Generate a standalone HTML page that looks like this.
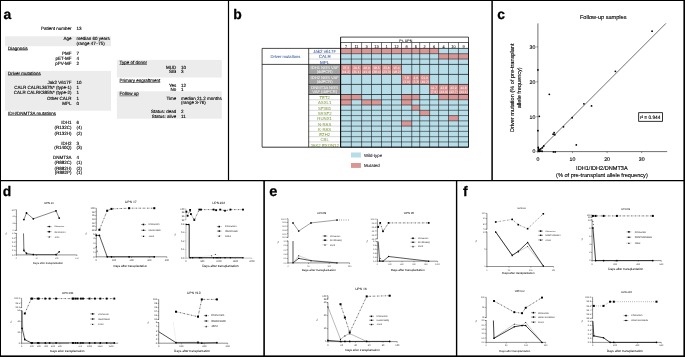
<!DOCTYPE html>
<html lang="en">
<head>
<meta charset="utf-8">
<title>Figure</title>
<style>
html,body{margin:0;padding:0;background:#fff;}
body{width:685px;height:357px;overflow:hidden;}
svg{display:block;font-family:"Liberation Sans",Arial,Helvetica,sans-serif;}
svg text{white-space:pre;}
</style>
</head>
<body>
<svg width="685" height="357" viewBox="0 0 685 357" text-rendering="geometricPrecision">
<rect x="0.00" y="0.00" width="685.00" height="357.00" fill="#fff" />
<rect x="0.00" y="0.00" width="685.00" height="1.00" fill="#000" />
<rect x="0.00" y="0.00" width="1.00" height="357.00" fill="#000" />
<rect x="683.40" y="0.00" width="1.60" height="357.00" fill="#000" />
<rect x="0.00" y="355.40" width="685.00" height="1.60" fill="#000" />
<line x1="0.00" y1="180.60" x2="685.00" y2="180.60" stroke="#000" stroke-width="1.3" />
<line x1="228.50" y1="0.00" x2="228.50" y2="180.50" stroke="#000" stroke-width="1.2" />
<line x1="492.10" y1="0.00" x2="492.10" y2="180.50" stroke="#000" stroke-width="1.5" />
<line x1="264.10" y1="180.50" x2="264.10" y2="357.00" stroke="#000" stroke-width="1.6" />
<line x1="456.60" y1="180.50" x2="456.60" y2="357.00" stroke="#000" stroke-width="1.4" />
<text x="3.60" y="18.70" font-size="13.9" text-anchor="start" fill="#000" font-weight="bold" stroke="#000" stroke-width="0.25" >a</text>
<text x="233.20" y="18.70" font-size="13.9" text-anchor="start" fill="#000" font-weight="bold" stroke="#000" stroke-width="0.25" >b</text>
<text x="497.30" y="18.70" font-size="13.9" text-anchor="start" fill="#000" font-weight="bold" stroke="#000" stroke-width="0.25" >c</text>
<text x="2.80" y="196.30" font-size="13.9" text-anchor="start" fill="#000" font-weight="bold" stroke="#000" stroke-width="0.25" >d</text>
<text x="269.30" y="196.20" font-size="14.6" text-anchor="start" fill="#000" font-weight="bold" stroke="#000" stroke-width="0.25" >e</text>
<text x="462.90" y="196.00" font-size="13.9" text-anchor="start" fill="#000" font-weight="bold" stroke="#000" stroke-width="0.25" >f</text>
<rect x="5.00" y="36.30" width="106.00" height="9.90" fill="#ececec" />
<rect x="5.00" y="70.90" width="106.00" height="39.80" fill="#ececec" />
<rect x="116.90" y="59.90" width="104.90" height="17.60" fill="#ececec" />
<rect x="116.90" y="91.30" width="104.90" height="27.40" fill="#ececec" />
<text x="71.50" y="29.65" font-size="4.5" text-anchor="end" fill="#000" font-weight="normal" stroke="#000" stroke-width="0.12" >Patient number</text>
<text x="76.50" y="29.65" font-size="4.5" text-anchor="start" fill="#000" font-weight="normal" stroke="#000" stroke-width="0.12" >13</text>
<text x="71.50" y="39.75" font-size="4.5" text-anchor="end" fill="#000" font-weight="normal" stroke="#000" stroke-width="0.12" >Age</text>
<text x="76.50" y="39.75" font-size="4.5" text-anchor="start" fill="#000" font-weight="normal" stroke="#000" stroke-width="0.12" >median 60 years</text>
<text x="76.50" y="44.75" font-size="4.5" text-anchor="start" fill="#000" font-weight="normal" stroke="#000" stroke-width="0.12" >(range 47–75)</text>
<text x="7.90" y="49.65" font-size="4.5" text-anchor="start" fill="#000" font-weight="normal" stroke="#000" stroke-width="0.12" >Diagnosis</text>
<line x1="7.90" y1="50.10" x2="27.66" y2="50.10" stroke="#000" stroke-width="0.45" />
<text x="71.50" y="54.65" font-size="4.5" text-anchor="end" fill="#000" font-weight="normal" stroke="#000" stroke-width="0.12" >PMF</text>
<text x="76.50" y="54.65" font-size="4.5" text-anchor="start" fill="#000" font-weight="normal" stroke="#000" stroke-width="0.12" >7</text>
<text x="71.50" y="59.65" font-size="4.5" text-anchor="end" fill="#000" font-weight="normal" stroke="#000" stroke-width="0.12" >pET-MF</text>
<text x="76.50" y="59.65" font-size="4.5" text-anchor="start" fill="#000" font-weight="normal" stroke="#000" stroke-width="0.12" >4</text>
<text x="71.50" y="64.75" font-size="4.5" text-anchor="end" fill="#000" font-weight="normal" stroke="#000" stroke-width="0.12" >pPV-MF</text>
<text x="76.50" y="64.75" font-size="4.5" text-anchor="start" fill="#000" font-weight="normal" stroke="#000" stroke-width="0.12" >2</text>
<text x="7.90" y="74.75" font-size="4.5" text-anchor="start" fill="#000" font-weight="normal" stroke="#000" stroke-width="0.12" >Driver mutations</text>
<line x1="7.90" y1="75.20" x2="40.66" y2="75.20" stroke="#000" stroke-width="0.45" />
<text x="71.50" y="84.45" font-size="4.5" text-anchor="end" fill="#000" font-weight="normal" stroke="#000" stroke-width="0.12" >Jak2 V617F</text>
<text x="76.50" y="84.45" font-size="4.5" text-anchor="start" fill="#000" font-weight="normal" stroke="#000" stroke-width="0.12" >10</text>
<text x="71.50" y="89.45" font-size="4.5" text-anchor="end" fill="#000" font-weight="normal" stroke="#000" stroke-width="0.12" >CALR CALRL367fs* (type-1)</text>
<text x="76.50" y="89.45" font-size="4.5" text-anchor="start" fill="#000" font-weight="normal" stroke="#000" stroke-width="0.12" >1</text>
<text x="71.50" y="94.45" font-size="4.5" text-anchor="end" fill="#000" font-weight="normal" stroke="#000" stroke-width="0.12" >CALR CALRK385fs* (type-2)</text>
<text x="76.50" y="94.45" font-size="4.5" text-anchor="start" fill="#000" font-weight="normal" stroke="#000" stroke-width="0.12" >1</text>
<text x="71.50" y="99.55" font-size="4.5" text-anchor="end" fill="#000" font-weight="normal" stroke="#000" stroke-width="0.12" >Other CALR</text>
<text x="76.50" y="99.55" font-size="4.5" text-anchor="start" fill="#000" font-weight="normal" stroke="#000" stroke-width="0.12" >1</text>
<text x="71.50" y="104.55" font-size="4.5" text-anchor="end" fill="#000" font-weight="normal" stroke="#000" stroke-width="0.12" >MPL</text>
<text x="76.50" y="104.55" font-size="4.5" text-anchor="start" fill="#000" font-weight="normal" stroke="#000" stroke-width="0.12" >0</text>
<text x="7.90" y="114.95" font-size="4.5" text-anchor="start" fill="#000" font-weight="normal" stroke="#000" stroke-width="0.12" >IDH/DNMT3A mutations</text>
<line x1="7.90" y1="115.40" x2="55.91" y2="115.40" stroke="#000" stroke-width="0.45" />
<text x="71.50" y="124.45" font-size="4.5" text-anchor="end" fill="#000" font-weight="normal" stroke="#000" stroke-width="0.12" >IDH1</text>
<text x="76.50" y="124.45" font-size="4.5" text-anchor="start" fill="#000" font-weight="normal" stroke="#000" stroke-width="0.12" >6</text>
<text x="71.50" y="129.45" font-size="4.5" text-anchor="end" fill="#000" font-weight="normal" stroke="#000" stroke-width="0.12" >(R132C)</text>
<text x="76.50" y="129.45" font-size="4.5" text-anchor="start" fill="#000" font-weight="normal" stroke="#000" stroke-width="0.12" >(4)</text>
<text x="71.50" y="134.55" font-size="4.5" text-anchor="end" fill="#000" font-weight="normal" stroke="#000" stroke-width="0.12" >(R132H)</text>
<text x="76.50" y="134.55" font-size="4.5" text-anchor="start" fill="#000" font-weight="normal" stroke="#000" stroke-width="0.12" >(2)</text>
<text x="71.50" y="144.65" font-size="4.5" text-anchor="end" fill="#000" font-weight="normal" stroke="#000" stroke-width="0.12" >IDH2</text>
<text x="76.50" y="144.65" font-size="4.5" text-anchor="start" fill="#000" font-weight="normal" stroke="#000" stroke-width="0.12" >3</text>
<text x="71.50" y="149.45" font-size="4.5" text-anchor="end" fill="#000" font-weight="normal" stroke="#000" stroke-width="0.12" >(R140Q)</text>
<text x="76.50" y="149.45" font-size="4.5" text-anchor="start" fill="#000" font-weight="normal" stroke="#000" stroke-width="0.12" >(3)</text>
<text x="71.50" y="159.45" font-size="4.5" text-anchor="end" fill="#000" font-weight="normal" stroke="#000" stroke-width="0.12" >DNMT3A</text>
<text x="76.50" y="159.45" font-size="4.5" text-anchor="start" fill="#000" font-weight="normal" stroke="#000" stroke-width="0.12" >4</text>
<text x="71.50" y="164.45" font-size="4.5" text-anchor="end" fill="#000" font-weight="normal" stroke="#000" stroke-width="0.12" >(R882C)</text>
<text x="76.50" y="164.45" font-size="4.5" text-anchor="start" fill="#000" font-weight="normal" stroke="#000" stroke-width="0.12" >(1)</text>
<text x="71.50" y="169.55" font-size="4.5" text-anchor="end" fill="#000" font-weight="normal" stroke="#000" stroke-width="0.12" >(R882H)</text>
<text x="76.50" y="169.55" font-size="4.5" text-anchor="start" fill="#000" font-weight="normal" stroke="#000" stroke-width="0.12" >(2)</text>
<text x="71.50" y="174.35" font-size="4.5" text-anchor="end" fill="#000" font-weight="normal" stroke="#000" stroke-width="0.12" >(R882P)</text>
<text x="76.50" y="174.35" font-size="4.5" text-anchor="start" fill="#000" font-weight="normal" stroke="#000" stroke-width="0.12" >(1)</text>
<text x="119.50" y="64.05" font-size="4.5" text-anchor="start" fill="#000" font-weight="normal" stroke="#000" stroke-width="0.12" >Type of donor</text>
<line x1="119.50" y1="64.50" x2="147.02" y2="64.50" stroke="#000" stroke-width="0.45" />
<text x="176.30" y="68.75" font-size="4.5" text-anchor="end" fill="#000" font-weight="normal" stroke="#000" stroke-width="0.12" >MUD</text>
<text x="181.00" y="68.75" font-size="4.5" text-anchor="start" fill="#000" font-weight="normal" stroke="#000" stroke-width="0.12" >10</text>
<text x="176.30" y="72.95" font-size="4.5" text-anchor="end" fill="#000" font-weight="normal" stroke="#000" stroke-width="0.12" >SIB</text>
<text x="181.00" y="72.95" font-size="4.5" text-anchor="start" fill="#000" font-weight="normal" stroke="#000" stroke-width="0.12" >3</text>
<text x="119.50" y="82.05" font-size="4.5" text-anchor="start" fill="#000" font-weight="normal" stroke="#000" stroke-width="0.12" >Primary engraftment</text>
<line x1="119.50" y1="82.50" x2="160.26" y2="82.50" stroke="#000" stroke-width="0.45" />
<text x="176.30" y="86.55" font-size="4.5" text-anchor="end" fill="#000" font-weight="normal" stroke="#000" stroke-width="0.12" >Yes</text>
<text x="181.00" y="86.55" font-size="4.5" text-anchor="start" fill="#000" font-weight="normal" stroke="#000" stroke-width="0.12" >12</text>
<text x="176.30" y="90.85" font-size="4.5" text-anchor="end" fill="#000" font-weight="normal" stroke="#000" stroke-width="0.12" >No</text>
<text x="181.00" y="90.85" font-size="4.5" text-anchor="start" fill="#000" font-weight="normal" stroke="#000" stroke-width="0.12" >1</text>
<text x="119.50" y="95.35" font-size="4.5" text-anchor="start" fill="#000" font-weight="normal" stroke="#000" stroke-width="0.12" >Follow up</text>
<line x1="119.50" y1="95.80" x2="138.76" y2="95.80" stroke="#000" stroke-width="0.45" />
<text x="176.30" y="100.05" font-size="4.5" text-anchor="end" fill="#000" font-weight="normal" stroke="#000" stroke-width="0.12" >Time</text>
<text x="181.00" y="100.05" font-size="4.5" text-anchor="start" fill="#000" font-weight="normal" stroke="#000" stroke-width="0.12" >median 21.2 months</text>
<text x="181.00" y="104.15" font-size="4.5" text-anchor="start" fill="#000" font-weight="normal" stroke="#000" stroke-width="0.12" >(range 3-76)</text>
<text x="176.30" y="113.45" font-size="4.5" text-anchor="end" fill="#000" font-weight="normal" stroke="#000" stroke-width="0.12" >Status: dead</text>
<text x="181.00" y="113.45" font-size="4.5" text-anchor="start" fill="#000" font-weight="normal" stroke="#000" stroke-width="0.12" >2</text>
<text x="176.30" y="117.85" font-size="4.5" text-anchor="end" fill="#000" font-weight="normal" stroke="#000" stroke-width="0.12" >Status: alive</text>
<text x="181.00" y="117.85" font-size="4.5" text-anchor="start" fill="#000" font-weight="normal" stroke="#000" stroke-width="0.12" >11</text>
<rect x="340.60" y="48.40" width="127.90" height="98.80" fill="#b7dde8" />
<rect x="340.60" y="48.40" width="10.75" height="5.30" fill="#d99694" />
<rect x="351.35" y="48.40" width="10.25" height="5.30" fill="#d99694" />
<rect x="361.60" y="48.40" width="9.90" height="5.30" fill="#d99694" />
<rect x="371.50" y="48.40" width="10.00" height="5.30" fill="#d99694" />
<rect x="381.50" y="48.40" width="10.00" height="5.30" fill="#d99694" />
<rect x="391.50" y="48.40" width="10.00" height="5.30" fill="#d99694" />
<rect x="401.50" y="48.40" width="10.25" height="5.30" fill="#d99694" />
<rect x="411.75" y="48.40" width="7.95" height="5.30" fill="#d99694" />
<rect x="419.70" y="48.40" width="9.90" height="5.30" fill="#d99694" />
<rect x="429.60" y="48.40" width="9.00" height="5.30" fill="#d99694" />
<rect x="438.60" y="53.70" width="9.90" height="5.35" fill="#d99694" />
<rect x="448.50" y="53.70" width="9.95" height="5.35" fill="#d99694" />
<rect x="458.45" y="53.70" width="10.05" height="5.35" fill="#d99694" />
<rect x="340.60" y="64.40" width="10.75" height="10.00" fill="#d99694" />
<rect x="351.35" y="64.40" width="10.25" height="10.00" fill="#d99694" />
<rect x="361.60" y="64.40" width="9.90" height="10.00" fill="#d99694" />
<rect x="371.50" y="64.40" width="10.00" height="10.00" fill="#d99694" />
<rect x="381.50" y="64.40" width="10.00" height="10.00" fill="#d99694" />
<rect x="391.50" y="64.40" width="10.00" height="10.00" fill="#d99694" />
<rect x="401.50" y="74.40" width="10.25" height="10.00" fill="#d99694" />
<rect x="411.75" y="74.40" width="7.95" height="10.00" fill="#d99694" />
<rect x="419.70" y="74.40" width="9.90" height="10.00" fill="#d99694" />
<rect x="429.60" y="84.40" width="9.00" height="10.10" fill="#d99694" />
<rect x="438.60" y="84.40" width="9.90" height="10.10" fill="#d99694" />
<rect x="448.50" y="84.40" width="9.95" height="10.10" fill="#d99694" />
<rect x="458.45" y="84.40" width="10.05" height="10.10" fill="#d99694" />
<rect x="340.60" y="94.50" width="10.75" height="5.27" fill="#d99694" />
<rect x="351.35" y="94.50" width="10.25" height="5.27" fill="#d99694" />
<rect x="401.50" y="94.50" width="10.25" height="5.27" fill="#d99694" />
<rect x="411.75" y="94.50" width="7.95" height="5.27" fill="#d99694" />
<rect x="438.60" y="94.50" width="9.90" height="5.27" fill="#d99694" />
<rect x="448.50" y="94.50" width="9.95" height="5.27" fill="#d99694" />
<rect x="458.45" y="94.50" width="10.05" height="5.27" fill="#d99694" />
<rect x="340.60" y="99.77" width="10.75" height="5.27" fill="#d99694" />
<rect x="361.60" y="99.77" width="9.90" height="5.27" fill="#d99694" />
<rect x="371.50" y="99.77" width="10.00" height="5.27" fill="#d99694" />
<rect x="401.50" y="99.77" width="10.25" height="5.27" fill="#d99694" />
<rect x="411.75" y="105.04" width="7.95" height="5.27" fill="#d99694" />
<rect x="419.70" y="110.31" width="9.90" height="5.27" fill="#d99694" />
<rect x="448.50" y="115.58" width="9.95" height="5.27" fill="#d99694" />
<rect x="401.50" y="120.85" width="10.25" height="5.27" fill="#d99694" />
<rect x="308.70" y="64.40" width="31.90" height="10.00" fill="#a6a6a6" />
<rect x="308.70" y="74.40" width="31.90" height="10.00" fill="#a6a6a6" />
<rect x="308.70" y="84.40" width="31.90" height="10.10" fill="#a6a6a6" />
<text x="405.75" y="41.50" font-size="3.6" text-anchor="middle" fill="#000" font-weight="normal" stroke="#000" stroke-width="0.04" >Pt. UPN</text>
<text x="345.98" y="47.60" font-size="3.9" text-anchor="middle" fill="#000" font-weight="normal" stroke="#000" stroke-width="0.04" >7</text>
<text x="356.48" y="47.60" font-size="3.9" text-anchor="middle" fill="#000" font-weight="normal" stroke="#000" stroke-width="0.04" >11</text>
<text x="366.55" y="47.60" font-size="3.9" text-anchor="middle" fill="#000" font-weight="normal" stroke="#000" stroke-width="0.04" >3</text>
<text x="376.50" y="47.60" font-size="3.9" text-anchor="middle" fill="#000" font-weight="normal" stroke="#000" stroke-width="0.04" >13</text>
<text x="386.50" y="47.60" font-size="3.9" text-anchor="middle" fill="#000" font-weight="normal" stroke="#000" stroke-width="0.04" >1</text>
<text x="396.50" y="47.60" font-size="3.9" text-anchor="middle" fill="#000" font-weight="normal" stroke="#000" stroke-width="0.04" >12</text>
<text x="406.62" y="47.60" font-size="3.9" text-anchor="middle" fill="#000" font-weight="normal" stroke="#000" stroke-width="0.04" >8</text>
<text x="415.73" y="47.60" font-size="3.9" text-anchor="middle" fill="#000" font-weight="normal" stroke="#000" stroke-width="0.04" >5</text>
<text x="424.65" y="47.60" font-size="3.9" text-anchor="middle" fill="#000" font-weight="normal" stroke="#000" stroke-width="0.04" >2</text>
<text x="434.10" y="47.60" font-size="3.9" text-anchor="middle" fill="#000" font-weight="normal" stroke="#000" stroke-width="0.04" >6</text>
<text x="443.55" y="47.60" font-size="3.9" text-anchor="middle" fill="#000" font-weight="normal" stroke="#000" stroke-width="0.04" >4</text>
<text x="453.48" y="47.60" font-size="3.9" text-anchor="middle" fill="#000" font-weight="normal" stroke="#000" stroke-width="0.04" >10</text>
<text x="463.48" y="47.60" font-size="3.9" text-anchor="middle" fill="#000" font-weight="normal" stroke="#000" stroke-width="0.04" >9</text>
<text x="345.98" y="68.70" font-size="3.3" text-anchor="middle" fill="#fff" font-weight="normal" >37.3</text>
<text x="345.98" y="72.90" font-size="3.3" text-anchor="middle" fill="#fff" font-weight="normal" >(41.2)</text>
<text x="356.48" y="68.70" font-size="3.3" text-anchor="middle" fill="#fff" font-weight="normal" >29.5</text>
<text x="356.48" y="72.90" font-size="3.3" text-anchor="middle" fill="#fff" font-weight="normal" >(31.1)</text>
<text x="366.55" y="68.70" font-size="3.3" text-anchor="middle" fill="#fff" font-weight="normal" >40.9</text>
<text x="366.55" y="72.90" font-size="3.3" text-anchor="middle" fill="#fff" font-weight="normal" >(41.4)</text>
<text x="376.50" y="68.70" font-size="3.3" text-anchor="middle" fill="#fff" font-weight="normal" >38.5</text>
<text x="376.50" y="72.90" font-size="3.3" text-anchor="middle" fill="#fff" font-weight="normal" >(38.4)</text>
<text x="386.50" y="68.70" font-size="3.3" text-anchor="middle" fill="#fff" font-weight="normal" >23.6</text>
<text x="386.50" y="72.90" font-size="3.3" text-anchor="middle" fill="#fff" font-weight="normal" >(23.3)</text>
<text x="396.50" y="68.70" font-size="3.3" text-anchor="middle" fill="#fff" font-weight="normal" >15.4</text>
<text x="396.50" y="72.90" font-size="3.3" text-anchor="middle" fill="#fff" font-weight="normal" >(18.2)</text>
<text x="406.62" y="78.70" font-size="3.3" text-anchor="middle" fill="#fff" font-weight="normal" >7.8</text>
<text x="406.62" y="82.90" font-size="3.3" text-anchor="middle" fill="#fff" font-weight="normal" >(3.0)</text>
<text x="415.73" y="78.70" font-size="3.3" text-anchor="middle" fill="#fff" font-weight="normal" >4.0</text>
<text x="415.73" y="82.90" font-size="3.3" text-anchor="middle" fill="#fff" font-weight="normal" >(3.3)</text>
<text x="424.65" y="78.70" font-size="3.3" text-anchor="middle" fill="#fff" font-weight="normal" >51.0</text>
<text x="424.65" y="82.90" font-size="3.3" text-anchor="middle" fill="#fff" font-weight="normal" >(49.2)</text>
<text x="434.10" y="88.70" font-size="3.3" text-anchor="middle" fill="#fff" font-weight="normal" >11.7</text>
<text x="434.10" y="92.90" font-size="3.3" text-anchor="middle" fill="#fff" font-weight="normal" >(7.6)</text>
<text x="443.55" y="88.70" font-size="3.3" text-anchor="middle" fill="#fff" font-weight="normal" >43.8</text>
<text x="443.55" y="92.90" font-size="3.3" text-anchor="middle" fill="#fff" font-weight="normal" >(44.9)</text>
<text x="453.48" y="88.70" font-size="3.3" text-anchor="middle" fill="#fff" font-weight="normal" >43.9</text>
<text x="453.48" y="92.90" font-size="3.3" text-anchor="middle" fill="#fff" font-weight="normal" >(43.7)</text>
<text x="463.48" y="88.70" font-size="3.3" text-anchor="middle" fill="#fff" font-weight="normal" >44.8</text>
<text x="463.48" y="92.90" font-size="3.3" text-anchor="middle" fill="#fff" font-weight="normal" >(44.1)</text>
<text x="285.40" y="57.70" font-size="4.1" text-anchor="middle" fill="#2f4f9a" font-weight="normal" stroke="#2f4f9a" stroke-width="0.03" >Driver mutations</text>
<text x="324.65" y="53.10" font-size="4.5" text-anchor="middle" fill="#2f4f9a" font-weight="normal" stroke="#2f4f9a" stroke-width="0.03" >Jak2 v617F</text>
<text x="324.65" y="58.45" font-size="4.5" text-anchor="middle" fill="#2f4f9a" font-weight="normal" stroke="#2f4f9a" stroke-width="0.03" >CALR</text>
<text x="324.65" y="63.80" font-size="4.5" text-anchor="middle" fill="#2f4f9a" font-weight="normal" stroke="#2f4f9a" stroke-width="0.03" >MPL</text>
<text x="324.65" y="99.17" font-size="4.3" text-anchor="middle" fill="#7f9a3f" font-weight="normal" stroke="#7f9a3f" stroke-width="0.03" >TET2</text>
<text x="324.65" y="104.44" font-size="4.3" text-anchor="middle" fill="#7f9a3f" font-weight="normal" stroke="#7f9a3f" stroke-width="0.03" >ASXL1</text>
<text x="324.65" y="109.71" font-size="4.3" text-anchor="middle" fill="#7f9a3f" font-weight="normal" stroke="#7f9a3f" stroke-width="0.03" >SF3B1</text>
<text x="324.65" y="114.98" font-size="4.3" text-anchor="middle" fill="#7f9a3f" font-weight="normal" stroke="#7f9a3f" stroke-width="0.03" >SRSF2</text>
<text x="324.65" y="120.25" font-size="4.3" text-anchor="middle" fill="#7f9a3f" font-weight="normal" stroke="#7f9a3f" stroke-width="0.03" >RUNX1</text>
<text x="324.65" y="125.52" font-size="4.3" text-anchor="middle" fill="#7f9a3f" font-weight="normal" stroke="#7f9a3f" stroke-width="0.03" >N-RAS</text>
<text x="324.65" y="130.79" font-size="4.3" text-anchor="middle" fill="#7f9a3f" font-weight="normal" stroke="#7f9a3f" stroke-width="0.03" >K-RAS</text>
<text x="324.65" y="136.06" font-size="4.3" text-anchor="middle" fill="#7f9a3f" font-weight="normal" stroke="#7f9a3f" stroke-width="0.03" >EZH2</text>
<text x="324.65" y="141.33" font-size="4.3" text-anchor="middle" fill="#7f9a3f" font-weight="normal" stroke="#7f9a3f" stroke-width="0.03" >CBL</text>
<text x="324.65" y="146.60" font-size="4.3" text-anchor="middle" fill="#7f9a3f" font-weight="normal" stroke="#7f9a3f" stroke-width="0.03" >JAK2 EXON12</text>
<text x="324.65" y="68.70" font-size="4.1" text-anchor="middle" fill="#fff" font-weight="normal" >IDH1 NGS VAF</text>
<text x="324.65" y="73.30" font-size="4.1" text-anchor="middle" fill="#fff" font-weight="normal" >(ddPCR)</text>
<text x="324.65" y="78.70" font-size="4.1" text-anchor="middle" fill="#fff" font-weight="normal" >IDH2 NGS VAF</text>
<text x="324.65" y="83.30" font-size="4.1" text-anchor="middle" fill="#fff" font-weight="normal" >(ddPCR)</text>
<text x="324.65" y="88.70" font-size="4.1" text-anchor="middle" fill="#fff" font-weight="normal" >DNMT3A NGS</text>
<text x="324.65" y="93.30" font-size="4.1" text-anchor="middle" fill="#fff" font-weight="normal" >VAF (ddPCR)</text>
<line x1="308.70" y1="48.40" x2="340.60" y2="48.40" stroke="#9a9a9a" stroke-width="0.4" />
<line x1="308.70" y1="53.70" x2="340.60" y2="53.70" stroke="#9a9a9a" stroke-width="0.4" />
<line x1="308.70" y1="59.05" x2="340.60" y2="59.05" stroke="#9a9a9a" stroke-width="0.4" />
<line x1="308.70" y1="99.77" x2="340.60" y2="99.77" stroke="#9a9a9a" stroke-width="0.4" />
<line x1="308.70" y1="105.04" x2="340.60" y2="105.04" stroke="#9a9a9a" stroke-width="0.4" />
<line x1="308.70" y1="110.31" x2="340.60" y2="110.31" stroke="#9a9a9a" stroke-width="0.4" />
<line x1="308.70" y1="115.58" x2="340.60" y2="115.58" stroke="#9a9a9a" stroke-width="0.4" />
<line x1="308.70" y1="120.85" x2="340.60" y2="120.85" stroke="#9a9a9a" stroke-width="0.4" />
<line x1="308.70" y1="126.12" x2="340.60" y2="126.12" stroke="#9a9a9a" stroke-width="0.4" />
<line x1="308.70" y1="131.39" x2="340.60" y2="131.39" stroke="#9a9a9a" stroke-width="0.4" />
<line x1="308.70" y1="136.66" x2="340.60" y2="136.66" stroke="#9a9a9a" stroke-width="0.4" />
<line x1="308.70" y1="141.93" x2="340.60" y2="141.93" stroke="#9a9a9a" stroke-width="0.4" />
<line x1="340.60" y1="48.40" x2="468.50" y2="48.40" stroke="#1a1a1a" stroke-width="0.75" />
<line x1="340.60" y1="53.70" x2="468.50" y2="53.70" stroke="#1a1a1a" stroke-width="0.55" />
<line x1="340.60" y1="59.05" x2="468.50" y2="59.05" stroke="#1a1a1a" stroke-width="0.55" />
<line x1="340.60" y1="64.40" x2="468.50" y2="64.40" stroke="#1a1a1a" stroke-width="0.75" />
<line x1="340.60" y1="74.40" x2="468.50" y2="74.40" stroke="#1a1a1a" stroke-width="0.75" />
<line x1="340.60" y1="84.40" x2="468.50" y2="84.40" stroke="#1a1a1a" stroke-width="0.75" />
<line x1="340.60" y1="94.50" x2="468.50" y2="94.50" stroke="#1a1a1a" stroke-width="0.75" />
<line x1="340.60" y1="99.77" x2="468.50" y2="99.77" stroke="#1a1a1a" stroke-width="0.55" />
<line x1="340.60" y1="105.04" x2="468.50" y2="105.04" stroke="#1a1a1a" stroke-width="0.55" />
<line x1="340.60" y1="110.31" x2="468.50" y2="110.31" stroke="#1a1a1a" stroke-width="0.55" />
<line x1="340.60" y1="115.58" x2="468.50" y2="115.58" stroke="#1a1a1a" stroke-width="0.55" />
<line x1="340.60" y1="120.85" x2="468.50" y2="120.85" stroke="#1a1a1a" stroke-width="0.55" />
<line x1="340.60" y1="126.12" x2="468.50" y2="126.12" stroke="#1a1a1a" stroke-width="0.55" />
<line x1="340.60" y1="131.39" x2="468.50" y2="131.39" stroke="#1a1a1a" stroke-width="0.55" />
<line x1="340.60" y1="136.66" x2="468.50" y2="136.66" stroke="#1a1a1a" stroke-width="0.55" />
<line x1="340.60" y1="141.93" x2="468.50" y2="141.93" stroke="#1a1a1a" stroke-width="0.55" />
<line x1="340.60" y1="147.20" x2="468.50" y2="147.20" stroke="#1a1a1a" stroke-width="0.75" />
<line x1="340.60" y1="42.50" x2="340.60" y2="147.20" stroke="#1a1a1a" stroke-width="0.6" />
<line x1="351.35" y1="42.50" x2="351.35" y2="147.20" stroke="#1a1a1a" stroke-width="0.6" />
<line x1="361.60" y1="42.50" x2="361.60" y2="147.20" stroke="#1a1a1a" stroke-width="0.6" />
<line x1="371.50" y1="42.50" x2="371.50" y2="147.20" stroke="#1a1a1a" stroke-width="0.6" />
<line x1="381.50" y1="42.50" x2="381.50" y2="147.20" stroke="#1a1a1a" stroke-width="0.6" />
<line x1="391.50" y1="42.50" x2="391.50" y2="147.20" stroke="#1a1a1a" stroke-width="0.6" />
<line x1="401.50" y1="42.50" x2="401.50" y2="147.20" stroke="#1a1a1a" stroke-width="0.6" />
<line x1="411.75" y1="42.50" x2="411.75" y2="147.20" stroke="#1a1a1a" stroke-width="0.6" />
<line x1="419.70" y1="42.50" x2="419.70" y2="147.20" stroke="#1a1a1a" stroke-width="0.6" />
<line x1="429.60" y1="42.50" x2="429.60" y2="147.20" stroke="#1a1a1a" stroke-width="0.6" />
<line x1="438.60" y1="42.50" x2="438.60" y2="147.20" stroke="#1a1a1a" stroke-width="0.6" />
<line x1="448.50" y1="42.50" x2="448.50" y2="147.20" stroke="#1a1a1a" stroke-width="0.6" />
<line x1="458.45" y1="42.50" x2="458.45" y2="147.20" stroke="#1a1a1a" stroke-width="0.6" />
<line x1="468.50" y1="42.50" x2="468.50" y2="147.20" stroke="#1a1a1a" stroke-width="0.6" />
<line x1="340.60" y1="37.10" x2="468.50" y2="37.10" stroke="#000" stroke-width="0.7" />
<line x1="340.60" y1="42.50" x2="468.50" y2="42.50" stroke="#000" stroke-width="0.6" />
<line x1="340.60" y1="37.10" x2="340.60" y2="147.20" stroke="#000" stroke-width="0.9" />
<line x1="468.50" y1="37.10" x2="468.50" y2="147.20" stroke="#000" stroke-width="0.7" />
<line x1="262.10" y1="48.40" x2="340.60" y2="48.40" stroke="#000" stroke-width="0.7" />
<line x1="262.10" y1="64.40" x2="340.60" y2="64.40" stroke="#000" stroke-width="0.7" />
<line x1="262.10" y1="147.20" x2="468.50" y2="147.20" stroke="#000" stroke-width="0.8" />
<line x1="262.10" y1="48.40" x2="262.10" y2="147.20" stroke="#000" stroke-width="0.7" />
<line x1="308.70" y1="48.40" x2="308.70" y2="147.20" stroke="#000" stroke-width="0.7" />
<line x1="308.70" y1="74.40" x2="340.60" y2="74.40" stroke="#000" stroke-width="0.7" />
<line x1="308.70" y1="84.40" x2="340.60" y2="84.40" stroke="#000" stroke-width="0.7" />
<line x1="308.70" y1="94.50" x2="340.60" y2="94.50" stroke="#000" stroke-width="0.7" />
<rect x="351.00" y="152.50" width="9.90" height="5.00" fill="#b7dde8" />
<rect x="351.00" y="163.00" width="9.90" height="4.90" fill="#d99694" />
<text x="363.90" y="156.70" font-size="4.4" text-anchor="start" fill="#000" font-weight="normal" stroke="#000" stroke-width="0.05" >Wild-type</text>
<text x="363.90" y="166.80" font-size="4.4" text-anchor="start" fill="#000" font-weight="normal" stroke="#000" stroke-width="0.05" >Mutated</text>
<line x1="537.90" y1="23.40" x2="537.90" y2="151.60" stroke="#333" stroke-width="0.7" />
<line x1="537.90" y1="151.60" x2="667.20" y2="151.60" stroke="#333" stroke-width="0.7" />
<line x1="536.40" y1="151.60" x2="537.90" y2="151.60" stroke="#222" stroke-width="0.5" />
<text x="535.30" y="153.45" font-size="5.2" text-anchor="end" fill="#000" font-weight="normal" stroke="#000" stroke-width="0.12" >0</text>
<line x1="537.90" y1="151.60" x2="537.90" y2="153.10" stroke="#222" stroke-width="0.5" />
<text x="537.90" y="160.50" font-size="5.2" text-anchor="middle" fill="#000" font-weight="normal" stroke="#000" stroke-width="0.12" >0</text>
<line x1="536.40" y1="116.70" x2="537.90" y2="116.70" stroke="#222" stroke-width="0.5" />
<text x="535.30" y="118.55" font-size="5.2" text-anchor="end" fill="#000" font-weight="normal" stroke="#000" stroke-width="0.12" >10</text>
<line x1="572.50" y1="151.60" x2="572.50" y2="153.10" stroke="#222" stroke-width="0.5" />
<text x="572.50" y="160.50" font-size="5.2" text-anchor="middle" fill="#000" font-weight="normal" stroke="#000" stroke-width="0.12" >10</text>
<line x1="536.40" y1="81.80" x2="537.90" y2="81.80" stroke="#222" stroke-width="0.5" />
<text x="535.30" y="83.65" font-size="5.2" text-anchor="end" fill="#000" font-weight="normal" stroke="#000" stroke-width="0.12" >20</text>
<line x1="607.10" y1="151.60" x2="607.10" y2="153.10" stroke="#222" stroke-width="0.5" />
<text x="607.10" y="160.50" font-size="5.2" text-anchor="middle" fill="#000" font-weight="normal" stroke="#000" stroke-width="0.12" >20</text>
<line x1="536.40" y1="46.90" x2="537.90" y2="46.90" stroke="#222" stroke-width="0.5" />
<text x="535.30" y="48.75" font-size="5.2" text-anchor="end" fill="#000" font-weight="normal" stroke="#000" stroke-width="0.12" >30</text>
<line x1="641.70" y1="151.60" x2="641.70" y2="153.10" stroke="#222" stroke-width="0.5" />
<text x="641.70" y="160.50" font-size="5.2" text-anchor="middle" fill="#000" font-weight="normal" stroke="#000" stroke-width="0.12" >30</text>
<line x1="537.90" y1="151.60" x2="665.90" y2="23.40" stroke="#222" stroke-width="0.65" />
<circle cx="549.32" cy="94.36" r="0.90" fill="#000"/>
<circle cx="539.28" cy="116.35" r="0.90" fill="#000"/>
<circle cx="537.90" cy="130.66" r="0.90" fill="#000"/>
<circle cx="583.92" cy="103.79" r="0.90" fill="#000"/>
<circle cx="591.53" cy="105.88" r="0.90" fill="#000"/>
<circle cx="572.15" cy="117.75" r="0.90" fill="#000"/>
<circle cx="563.50" cy="126.82" r="0.90" fill="#000"/>
<circle cx="553.12" cy="134.15" r="0.90" fill="#000"/>
<circle cx="554.16" cy="132.75" r="0.90" fill="#000"/>
<circle cx="554.85" cy="134.85" r="0.90" fill="#000"/>
<circle cx="576.31" cy="144.97" r="0.90" fill="#000"/>
<circle cx="553.47" cy="151.95" r="0.90" fill="#000"/>
<circle cx="555.20" cy="151.95" r="0.90" fill="#000"/>
<circle cx="615.40" cy="71.33" r="0.90" fill="#000"/>
<circle cx="652.08" cy="31.19" r="0.90" fill="#000"/>
<circle cx="537.90" cy="69.93" r="0.90" fill="#000"/>
<circle cx="538.42" cy="151.08" r="0.90" fill="#000"/>
<circle cx="539.46" cy="151.25" r="0.90" fill="#000"/>
<circle cx="538.42" cy="150.03" r="0.90" fill="#000"/>
<circle cx="539.63" cy="149.85" r="0.90" fill="#000"/>
<circle cx="540.67" cy="151.08" r="0.90" fill="#000"/>
<circle cx="538.59" cy="148.81" r="0.90" fill="#000"/>
<circle cx="540.84" cy="148.81" r="0.90" fill="#000"/>
<circle cx="542.05" cy="151.25" r="0.90" fill="#000"/>
<circle cx="542.40" cy="147.76" r="0.90" fill="#000"/>
<circle cx="543.78" cy="146.02" r="0.90" fill="#000"/>
<circle cx="538.25" cy="147.41" r="0.90" fill="#000"/>
<text x="603.20" y="19.20" font-size="5.6" text-anchor="middle" fill="#000" font-weight="normal" stroke="#000" stroke-width="0.12" >Follow-up samples</text>
<text x="601.90" y="170.10" font-size="5.6" text-anchor="middle" fill="#000" font-weight="normal" stroke="#000" stroke-width="0.12" >IDH1/IDH2/DNMT3A</text>
<text x="601.90" y="177.20" font-size="5.6" text-anchor="middle" fill="#000" font-weight="normal" stroke="#000" stroke-width="0.12" >(% of pre-transplant allele frequency)</text>
<g transform="translate(513.7,87.8) rotate(-90)">
<text x="0.00" y="0.00" font-size="5.6" text-anchor="middle" fill="#000" font-weight="normal" stroke="#000" stroke-width="0.12" >Driver mutation (% of pre-transplant</text>
<text x="0.00" y="7.40" font-size="5.6" text-anchor="middle" fill="#000" font-weight="normal" stroke="#000" stroke-width="0.12" >allele frequency)</text>
</g>
<rect x="638.7" y="112.7" width="23.7" height="8.6" fill="#fff" stroke="#000" stroke-width="0.8"/>
<text x="639.90" y="118.80" font-size="4.9" text-anchor="start" fill="#000" font-weight="normal" textLength="20.40" lengthAdjust="spacingAndGlyphs" stroke="#000" stroke-width="0.12" >r² = 0.944</text>
<line x1="16.40" y1="209.70" x2="16.40" y2="230.40" stroke="#222" stroke-width="0.5" />
<line x1="16.40" y1="233.40" x2="16.40" y2="254.90" stroke="#222" stroke-width="0.5" />
<line x1="15.20" y1="230.40" x2="16.70" y2="230.40" stroke="#222" stroke-width="0.4" />
<line x1="15.20" y1="233.40" x2="16.70" y2="233.40" stroke="#222" stroke-width="0.4" />
<line x1="16.40" y1="254.90" x2="76.90" y2="254.90" stroke="#222" stroke-width="0.5" />
<line x1="16.40" y1="254.90" x2="16.40" y2="256.00" stroke="#222" stroke-width="0.4" />
<text x="16.40" y="258.90" font-size="2.0" text-anchor="middle" fill="#333" font-weight="normal" >0</text>
<line x1="36.60" y1="254.90" x2="36.60" y2="256.00" stroke="#222" stroke-width="0.4" />
<text x="36.60" y="258.90" font-size="2.0" text-anchor="middle" fill="#333" font-weight="normal" >50</text>
<line x1="56.70" y1="254.90" x2="56.70" y2="256.00" stroke="#222" stroke-width="0.4" />
<text x="56.70" y="258.90" font-size="2.0" text-anchor="middle" fill="#333" font-weight="normal" >100</text>
<line x1="76.90" y1="254.90" x2="76.90" y2="256.00" stroke="#222" stroke-width="0.4" />
<text x="76.90" y="258.90" font-size="2.0" text-anchor="middle" fill="#333" font-weight="normal" >150</text>
<line x1="15.30" y1="209.70" x2="16.40" y2="209.70" stroke="#222" stroke-width="0.4" />
<text x="14.80" y="210.55" font-size="2.0" text-anchor="end" fill="#333" font-weight="normal" >100</text>
<line x1="15.30" y1="216.60" x2="16.40" y2="216.60" stroke="#222" stroke-width="0.4" />
<text x="14.80" y="217.45" font-size="2.0" text-anchor="end" fill="#333" font-weight="normal" >99</text>
<line x1="15.30" y1="223.50" x2="16.40" y2="223.50" stroke="#222" stroke-width="0.4" />
<text x="14.80" y="224.35" font-size="2.0" text-anchor="end" fill="#333" font-weight="normal" >98</text>
<line x1="15.30" y1="230.40" x2="16.40" y2="230.40" stroke="#222" stroke-width="0.4" />
<text x="14.80" y="231.25" font-size="2.0" text-anchor="end" fill="#333" font-weight="normal" >97</text>
<line x1="15.30" y1="233.40" x2="16.40" y2="233.40" stroke="#222" stroke-width="0.4" />
<text x="14.80" y="234.25" font-size="2.0" text-anchor="end" fill="#333" font-weight="normal" >1.0</text>
<line x1="15.30" y1="237.70" x2="16.40" y2="237.70" stroke="#222" stroke-width="0.4" />
<text x="14.80" y="238.55" font-size="2.0" text-anchor="end" fill="#333" font-weight="normal" >0.8</text>
<line x1="15.30" y1="242.00" x2="16.40" y2="242.00" stroke="#222" stroke-width="0.4" />
<text x="14.80" y="242.85" font-size="2.0" text-anchor="end" fill="#333" font-weight="normal" >0.6</text>
<line x1="15.30" y1="246.30" x2="16.40" y2="246.30" stroke="#222" stroke-width="0.4" />
<text x="14.80" y="247.15" font-size="2.0" text-anchor="end" fill="#333" font-weight="normal" >0.4</text>
<line x1="15.30" y1="250.60" x2="16.40" y2="250.60" stroke="#222" stroke-width="0.4" />
<text x="14.80" y="251.45" font-size="2.0" text-anchor="end" fill="#333" font-weight="normal" >0.2</text>
<line x1="15.30" y1="254.90" x2="16.40" y2="254.90" stroke="#222" stroke-width="0.4" />
<text x="14.80" y="255.75" font-size="2.0" text-anchor="end" fill="#333" font-weight="normal" >0.0</text>
<text x="6.90" y="233.50" font-size="2.6" text-anchor="middle" fill="#333" font-weight="normal" transform="rotate(-90 6.90 233.50)">%</text>
<text x="49.00" y="204.40" font-size="2.76" text-anchor="middle" fill="#111" font-weight="normal" stroke="#111" stroke-width="0.03" >UPN #1</text>
<text x="48.00" y="264.30" font-size="2.65" text-anchor="middle" fill="#111" font-weight="normal" stroke="#111" stroke-width="0.03" >Days after transplantation</text>
<polyline points="23.90,219.60 26.50,213.00 33.30,218.80 56.00,210.80 59.20,218.10" fill="none" stroke="#111" stroke-width="0.5" stroke-linejoin="round" />
<circle cx="23.90" cy="219.60" r="0.90" fill="#000"/>
<circle cx="26.50" cy="213.00" r="0.90" fill="#000"/>
<circle cx="33.30" cy="218.80" r="0.90" fill="#000"/>
<circle cx="56.00" cy="210.80" r="0.90" fill="#000"/>
<circle cx="59.20" cy="218.10" r="0.90" fill="#000"/>
<polyline points="23.50,233.40 23.90,250.60 26.50,253.60 33.30,254.60 56.00,254.60 59.20,251.80" fill="none" stroke="#111" stroke-width="0.6" stroke-linejoin="round" />
<rect x="23.20" y="249.90" width="1.40" height="1.40" fill="#000" />
<rect x="25.80" y="252.90" width="1.40" height="1.40" fill="#000" />
<rect x="32.60" y="253.90" width="1.40" height="1.40" fill="#000" />
<rect x="55.30" y="253.90" width="1.40" height="1.40" fill="#000" />
<rect x="58.50" y="251.10" width="1.40" height="1.40" fill="#000" />
<polyline points="23.90,249.00 26.50,252.60 33.30,254.20" fill="none" stroke="#777" stroke-width="0.3" stroke-dasharray="0.4 0.7" stroke-linejoin="round" />
<polygon points="23.90,248.40 24.50,249.60 23.30,249.60" fill="#000"/>
<polygon points="26.50,252.00 27.10,253.20 25.90,253.20" fill="#000"/>
<polygon points="33.30,253.60 33.90,254.80 32.70,254.80" fill="#000"/>
<line x1="46.90" y1="226.60" x2="51.50" y2="226.60" stroke="#111" stroke-width="0.45" />
<circle cx="49.20" cy="226.60" r="0.80" fill="#000"/>
<text x="54.50" y="227.45" font-size="2.05" text-anchor="start" fill="#222" font-weight="normal" >Chimerism</text>
<line x1="46.90" y1="231.70" x2="51.50" y2="231.70" stroke="#111" stroke-width="0.45" />
<rect x="48.40" y="230.90" width="1.60" height="1.60" fill="#000" />
<text x="54.50" y="232.55" font-size="2.05" text-anchor="start" fill="#222" font-weight="normal" >IDH1R132H</text>
<line x1="46.90" y1="236.70" x2="51.50" y2="236.70" stroke="#111" stroke-width="0.45" stroke-dasharray="0.4 0.7"/>
<polygon points="49.20,235.90 50.00,237.50 48.40,237.50" fill="#000"/>
<text x="54.50" y="237.55" font-size="2.05" text-anchor="start" fill="#222" font-weight="normal" >JAK2</text>
<line x1="96.30" y1="208.20" x2="96.30" y2="230.30" stroke="#222" stroke-width="0.5" />
<line x1="96.30" y1="234.10" x2="96.30" y2="256.80" stroke="#222" stroke-width="0.5" />
<line x1="95.10" y1="230.30" x2="96.60" y2="230.30" stroke="#222" stroke-width="0.4" />
<line x1="95.10" y1="234.10" x2="96.60" y2="234.10" stroke="#222" stroke-width="0.4" />
<line x1="96.30" y1="256.80" x2="166.90" y2="256.80" stroke="#222" stroke-width="0.5" />
<line x1="96.30" y1="256.80" x2="96.30" y2="257.90" stroke="#222" stroke-width="0.4" />
<text x="96.30" y="260.80" font-size="2.45" text-anchor="middle" fill="#333" font-weight="normal" >0</text>
<line x1="114.00" y1="256.80" x2="114.00" y2="257.90" stroke="#222" stroke-width="0.4" />
<text x="114.00" y="260.80" font-size="2.45" text-anchor="middle" fill="#333" font-weight="normal" >100</text>
<line x1="131.60" y1="256.80" x2="131.60" y2="257.90" stroke="#222" stroke-width="0.4" />
<text x="131.60" y="260.80" font-size="2.45" text-anchor="middle" fill="#333" font-weight="normal" >200</text>
<line x1="149.30" y1="256.80" x2="149.30" y2="257.90" stroke="#222" stroke-width="0.4" />
<text x="149.30" y="260.80" font-size="2.45" text-anchor="middle" fill="#333" font-weight="normal" >300</text>
<line x1="166.90" y1="256.80" x2="166.90" y2="257.90" stroke="#222" stroke-width="0.4" />
<text x="166.90" y="260.80" font-size="2.45" text-anchor="middle" fill="#333" font-weight="normal" >400</text>
<line x1="95.20" y1="208.20" x2="96.30" y2="208.20" stroke="#222" stroke-width="0.4" />
<text x="94.70" y="209.05" font-size="2.45" text-anchor="end" fill="#333" font-weight="normal" >100</text>
<line x1="95.20" y1="211.88" x2="96.30" y2="211.88" stroke="#222" stroke-width="0.4" />
<text x="94.70" y="212.73" font-size="2.45" text-anchor="end" fill="#333" font-weight="normal" >98</text>
<line x1="95.20" y1="215.57" x2="96.30" y2="215.57" stroke="#222" stroke-width="0.4" />
<text x="94.70" y="216.42" font-size="2.45" text-anchor="end" fill="#333" font-weight="normal" >96</text>
<line x1="95.20" y1="219.25" x2="96.30" y2="219.25" stroke="#222" stroke-width="0.4" />
<text x="94.70" y="220.10" font-size="2.45" text-anchor="end" fill="#333" font-weight="normal" >94</text>
<line x1="95.20" y1="222.93" x2="96.30" y2="222.93" stroke="#222" stroke-width="0.4" />
<text x="94.70" y="223.78" font-size="2.45" text-anchor="end" fill="#333" font-weight="normal" >92</text>
<line x1="95.20" y1="226.62" x2="96.30" y2="226.62" stroke="#222" stroke-width="0.4" />
<text x="94.70" y="227.47" font-size="2.45" text-anchor="end" fill="#333" font-weight="normal" >90</text>
<line x1="95.20" y1="230.30" x2="96.30" y2="230.30" stroke="#222" stroke-width="0.4" />
<text x="94.70" y="231.15" font-size="2.45" text-anchor="end" fill="#333" font-weight="normal" >88</text>
<line x1="95.20" y1="234.10" x2="96.30" y2="234.10" stroke="#222" stroke-width="0.4" />
<text x="94.70" y="234.95" font-size="2.45" text-anchor="end" fill="#333" font-weight="normal" >5</text>
<line x1="95.20" y1="238.64" x2="96.30" y2="238.64" stroke="#222" stroke-width="0.4" />
<text x="94.70" y="239.49" font-size="2.45" text-anchor="end" fill="#333" font-weight="normal" >4</text>
<line x1="95.20" y1="243.18" x2="96.30" y2="243.18" stroke="#222" stroke-width="0.4" />
<text x="94.70" y="244.03" font-size="2.45" text-anchor="end" fill="#333" font-weight="normal" >3</text>
<line x1="95.20" y1="247.72" x2="96.30" y2="247.72" stroke="#222" stroke-width="0.4" />
<text x="94.70" y="248.57" font-size="2.45" text-anchor="end" fill="#333" font-weight="normal" >2</text>
<line x1="95.20" y1="252.26" x2="96.30" y2="252.26" stroke="#222" stroke-width="0.4" />
<text x="94.70" y="253.11" font-size="2.45" text-anchor="end" fill="#333" font-weight="normal" >1</text>
<line x1="95.20" y1="256.80" x2="96.30" y2="256.80" stroke="#222" stroke-width="0.4" />
<text x="94.70" y="257.65" font-size="2.45" text-anchor="end" fill="#333" font-weight="normal" >0</text>
<text x="86.80" y="233.70" font-size="2.6" text-anchor="middle" fill="#333" font-weight="normal" transform="rotate(-90 86.80 233.70)">%</text>
<text x="130.90" y="202.50" font-size="3.34" text-anchor="middle" fill="#111" font-weight="normal" stroke="#111" stroke-width="0.03" >UPN #7</text>
<text x="130.40" y="266.70" font-size="2.96" text-anchor="middle" fill="#111" font-weight="normal" stroke="#111" stroke-width="0.03" >Days after transplantation</text>
<polyline points="99.40,229.80 107.20,210.70 111.50,208.90 129.10,208.20 154.30,208.20" fill="none" stroke="#111" stroke-width="0.6" stroke-dasharray="1.6 0.9 0.4 0.9" stroke-linejoin="round" />
<rect x="98.40" y="228.80" width="2.00" height="2.00" fill="#000" />
<rect x="106.20" y="209.70" width="2.00" height="2.00" fill="#000" />
<rect x="110.50" y="207.90" width="2.00" height="2.00" fill="#000" />
<rect x="128.10" y="207.20" width="2.00" height="2.00" fill="#000" />
<rect x="153.30" y="207.20" width="2.00" height="2.00" fill="#000" />
<polyline points="96.30,235.40 99.40,235.40 107.20,256.80 111.50,256.80 129.10,256.80 154.30,256.80" fill="none" stroke="#111" stroke-width="0.7" stroke-linejoin="round" />
<circle cx="96.30" cy="235.40" r="0.85" fill="#000"/>
<circle cx="99.40" cy="235.40" r="0.85" fill="#000"/>
<circle cx="107.20" cy="256.80" r="0.85" fill="#000"/>
<circle cx="111.50" cy="256.80" r="0.85" fill="#000"/>
<circle cx="129.10" cy="256.80" r="0.85" fill="#000"/>
<circle cx="154.30" cy="256.80" r="0.85" fill="#000"/>
<polyline points="96.30,246.70 97.20,251.00 99.40,256.60" fill="none" stroke="#777" stroke-width="0.3" stroke-dasharray="0.4 0.7" stroke-linejoin="round" />
<polygon points="96.30,246.10 96.90,247.30 95.70,247.30" fill="#000"/>
<polygon points="97.20,250.40 97.80,251.60 96.60,251.60" fill="#000"/>
<line x1="141.20" y1="224.50" x2="145.80" y2="224.50" stroke="#111" stroke-width="0.45" stroke-dasharray="1.6 0.9 0.4 0.9"/>
<rect x="142.70" y="223.70" width="1.60" height="1.60" fill="#000" />
<text x="148.50" y="225.35" font-size="2.32" text-anchor="start" fill="#222" font-weight="normal" >Chimerism</text>
<line x1="141.20" y1="230.30" x2="145.80" y2="230.30" stroke="#111" stroke-width="0.45" />
<circle cx="143.50" cy="230.30" r="0.80" fill="#000"/>
<text x="148.50" y="231.15" font-size="2.32" text-anchor="start" fill="#222" font-weight="normal" >IDH1R132C</text>
<line x1="141.20" y1="236.10" x2="145.80" y2="236.10" stroke="#111" stroke-width="0.45" stroke-dasharray="0.4 0.7"/>
<polygon points="143.50,235.30 144.30,236.90 142.70,236.90" fill="#000"/>
<text x="148.50" y="236.95" font-size="2.32" text-anchor="start" fill="#222" font-weight="normal" >JAK2</text>
<line x1="185.90" y1="208.90" x2="185.90" y2="219.70" stroke="#888" stroke-width="0.5" />
<line x1="185.90" y1="224.00" x2="185.90" y2="258.10" stroke="#888" stroke-width="0.5" />
<line x1="184.70" y1="219.70" x2="186.20" y2="219.70" stroke="#888" stroke-width="0.4" />
<line x1="184.70" y1="224.00" x2="186.20" y2="224.00" stroke="#888" stroke-width="0.4" />
<line x1="185.90" y1="258.10" x2="251.90" y2="258.10" stroke="#888" stroke-width="0.5" />
<line x1="185.90" y1="258.10" x2="185.90" y2="259.20" stroke="#888" stroke-width="0.4" />
<text x="185.90" y="262.10" font-size="2.4" text-anchor="middle" fill="#333" font-weight="normal" >0</text>
<line x1="202.40" y1="258.10" x2="202.40" y2="259.20" stroke="#888" stroke-width="0.4" />
<text x="202.40" y="262.10" font-size="2.4" text-anchor="middle" fill="#333" font-weight="normal" >500</text>
<line x1="218.90" y1="258.10" x2="218.90" y2="259.20" stroke="#888" stroke-width="0.4" />
<text x="218.90" y="262.10" font-size="2.4" text-anchor="middle" fill="#333" font-weight="normal" >1000</text>
<line x1="235.40" y1="258.10" x2="235.40" y2="259.20" stroke="#888" stroke-width="0.4" />
<text x="235.40" y="262.10" font-size="2.4" text-anchor="middle" fill="#333" font-weight="normal" >1500</text>
<line x1="251.90" y1="258.10" x2="251.90" y2="259.20" stroke="#888" stroke-width="0.4" />
<text x="251.90" y="262.10" font-size="2.4" text-anchor="middle" fill="#333" font-weight="normal" >2000</text>
<line x1="184.80" y1="208.90" x2="185.90" y2="208.90" stroke="#888" stroke-width="0.4" />
<text x="184.30" y="209.75" font-size="2.4" text-anchor="end" fill="#333" font-weight="normal" >100</text>
<line x1="184.80" y1="212.50" x2="185.90" y2="212.50" stroke="#888" stroke-width="0.4" />
<text x="184.30" y="213.35" font-size="2.4" text-anchor="end" fill="#333" font-weight="normal" >98</text>
<line x1="184.80" y1="216.10" x2="185.90" y2="216.10" stroke="#888" stroke-width="0.4" />
<text x="184.30" y="216.95" font-size="2.4" text-anchor="end" fill="#333" font-weight="normal" >96</text>
<line x1="184.80" y1="219.70" x2="185.90" y2="219.70" stroke="#888" stroke-width="0.4" />
<text x="184.30" y="220.55" font-size="2.4" text-anchor="end" fill="#333" font-weight="normal" >94</text>
<line x1="184.80" y1="224.00" x2="185.90" y2="224.00" stroke="#888" stroke-width="0.4" />
<text x="184.30" y="224.85" font-size="2.4" text-anchor="end" fill="#333" font-weight="normal" >0.4</text>
<line x1="184.80" y1="232.53" x2="185.90" y2="232.53" stroke="#888" stroke-width="0.4" />
<text x="184.30" y="233.38" font-size="2.4" text-anchor="end" fill="#333" font-weight="normal" >0.3</text>
<line x1="184.80" y1="241.05" x2="185.90" y2="241.05" stroke="#888" stroke-width="0.4" />
<text x="184.30" y="241.90" font-size="2.4" text-anchor="end" fill="#333" font-weight="normal" >0.2</text>
<line x1="184.80" y1="249.58" x2="185.90" y2="249.58" stroke="#888" stroke-width="0.4" />
<text x="184.30" y="250.43" font-size="2.4" text-anchor="end" fill="#333" font-weight="normal" >0.1</text>
<line x1="184.80" y1="258.10" x2="185.90" y2="258.10" stroke="#888" stroke-width="0.4" />
<text x="184.30" y="258.95" font-size="2.4" text-anchor="end" fill="#333" font-weight="normal" >0.0</text>
<text x="176.40" y="234.70" font-size="2.6" text-anchor="middle" fill="#333" font-weight="normal" transform="rotate(-90 176.40 234.70)">%</text>
<text x="218.70" y="203.80" font-size="3.17" text-anchor="middle" fill="#111" font-weight="normal" stroke="#111" stroke-width="0.03" >UPN #12</text>
<text x="220.40" y="266.70" font-size="3.2" text-anchor="middle" fill="#111" font-weight="normal" stroke="#111" stroke-width="0.03" >Days after transplantation</text>
<polyline points="186.40,211.60 187.60,215.80 190.10,209.90 190.90,214.10 194.30,220.00 199.30,209.60 201.00,209.60 213.60,209.60 216.10,210.20 220.30,209.60 225.00,210.70 230.40,209.60 243.00,209.60" fill="none" stroke="#111" stroke-width="0.6" stroke-dasharray="1.6 0.9 0.4 0.9" stroke-linejoin="round" />
<rect x="185.50" y="210.70" width="1.80" height="1.80" fill="#000" />
<rect x="186.70" y="214.90" width="1.80" height="1.80" fill="#000" />
<rect x="189.20" y="209.00" width="1.80" height="1.80" fill="#000" />
<rect x="190.00" y="213.20" width="1.80" height="1.80" fill="#000" />
<rect x="193.40" y="219.10" width="1.80" height="1.80" fill="#000" />
<rect x="198.40" y="208.70" width="1.80" height="1.80" fill="#000" />
<rect x="200.10" y="208.70" width="1.80" height="1.80" fill="#000" />
<rect x="212.70" y="208.70" width="1.80" height="1.80" fill="#000" />
<rect x="215.20" y="209.30" width="1.80" height="1.80" fill="#000" />
<rect x="219.40" y="208.70" width="1.80" height="1.80" fill="#000" />
<rect x="224.10" y="209.80" width="1.80" height="1.80" fill="#000" />
<rect x="229.50" y="208.70" width="1.80" height="1.80" fill="#000" />
<rect x="242.10" y="208.70" width="1.80" height="1.80" fill="#000" />
<polyline points="186.40,224.40 188.40,224.60 189.20,224.20 189.20,257.60 190.10,257.70 192.60,257.70 199.30,257.70 201.00,257.70 213.60,257.70 216.10,257.70 217.80,257.70 220.30,257.70 225.00,257.70 230.40,257.70 243.00,257.70" fill="none" stroke="#111" stroke-width="0.9" stroke-linejoin="round" />
<circle cx="186.40" cy="224.40" r="0.75" fill="#000"/>
<circle cx="188.40" cy="224.60" r="0.75" fill="#000"/>
<circle cx="190.10" cy="257.70" r="0.75" fill="#000"/>
<circle cx="192.60" cy="257.70" r="0.75" fill="#000"/>
<circle cx="199.30" cy="257.70" r="0.75" fill="#000"/>
<circle cx="201.00" cy="257.70" r="0.75" fill="#000"/>
<circle cx="213.60" cy="257.70" r="0.75" fill="#000"/>
<circle cx="216.10" cy="257.70" r="0.75" fill="#000"/>
<circle cx="217.80" cy="257.70" r="0.75" fill="#000"/>
<circle cx="220.30" cy="257.70" r="0.75" fill="#000"/>
<circle cx="225.00" cy="257.70" r="0.75" fill="#000"/>
<circle cx="230.40" cy="257.70" r="0.75" fill="#000"/>
<circle cx="243.00" cy="257.70" r="0.75" fill="#000"/>
<polyline points="186.40,226.00 189.60,256.50 201.00,256.60 211.60,255.60 215.30,254.40 220.30,257.00 243.10,257.30" fill="none" stroke="#777" stroke-width="0.3" stroke-dasharray="0.4 0.7" stroke-linejoin="round" />
<polygon points="211.60,255.00 212.20,256.20 211.00,256.20" fill="#000"/>
<polygon points="215.30,253.80 215.90,255.00 214.70,255.00" fill="#000"/>
<line x1="216.90" y1="226.60" x2="221.50" y2="226.60" stroke="#111" stroke-width="0.45" stroke-dasharray="1.6 0.9 0.4 0.9"/>
<rect x="218.40" y="225.80" width="1.60" height="1.60" fill="#000" />
<text x="225.00" y="227.45" font-size="2.43" text-anchor="start" fill="#222" font-weight="normal" >Chimerism</text>
<line x1="216.90" y1="231.10" x2="221.50" y2="231.10" stroke="#111" stroke-width="0.45" />
<circle cx="219.20" cy="231.10" r="0.80" fill="#000"/>
<text x="225.00" y="231.95" font-size="2.43" text-anchor="start" fill="#222" font-weight="normal" >IDH1R132C</text>
<line x1="216.90" y1="235.90" x2="221.50" y2="235.90" stroke="#111" stroke-width="0.45" stroke-dasharray="0.4 0.7"/>
<polygon points="219.20,235.10 220.00,236.70 218.40,236.70" fill="#000"/>
<text x="225.00" y="236.75" font-size="2.43" text-anchor="start" fill="#222" font-weight="normal" >JAK2</text>
<line x1="21.60" y1="298.30" x2="21.60" y2="307.60" stroke="#222" stroke-width="0.5" />
<line x1="21.60" y1="310.60" x2="21.60" y2="343.20" stroke="#222" stroke-width="0.5" />
<line x1="20.40" y1="307.60" x2="21.90" y2="307.60" stroke="#222" stroke-width="0.4" />
<line x1="20.40" y1="310.60" x2="21.90" y2="310.60" stroke="#222" stroke-width="0.4" />
<line x1="21.60" y1="343.20" x2="69.00" y2="343.20" stroke="#222" stroke-width="0.5" />
<line x1="72.20" y1="343.20" x2="118.20" y2="343.20" stroke="#222" stroke-width="0.5" />
<line x1="21.60" y1="343.20" x2="21.60" y2="344.30" stroke="#222" stroke-width="0.4" />
<text x="21.60" y="347.20" font-size="2.3" text-anchor="middle" fill="#333" font-weight="normal" >0</text>
<line x1="31.80" y1="343.20" x2="31.80" y2="344.30" stroke="#222" stroke-width="0.4" />
<text x="31.80" y="347.20" font-size="2.3" text-anchor="middle" fill="#333" font-weight="normal" >100</text>
<line x1="38.90" y1="343.20" x2="38.90" y2="344.30" stroke="#222" stroke-width="0.4" />
<text x="38.90" y="347.20" font-size="2.3" text-anchor="middle" fill="#333" font-weight="normal" >200</text>
<line x1="46.10" y1="343.20" x2="46.10" y2="344.30" stroke="#222" stroke-width="0.4" />
<text x="46.10" y="347.20" font-size="2.3" text-anchor="middle" fill="#333" font-weight="normal" >300</text>
<line x1="53.00" y1="343.20" x2="53.00" y2="344.30" stroke="#222" stroke-width="0.4" />
<text x="53.00" y="347.20" font-size="2.3" text-anchor="middle" fill="#333" font-weight="normal" >400</text>
<line x1="59.90" y1="343.20" x2="59.90" y2="344.30" stroke="#222" stroke-width="0.4" />
<text x="59.90" y="347.20" font-size="2.3" text-anchor="middle" fill="#333" font-weight="normal" >500</text>
<line x1="80.00" y1="343.20" x2="80.00" y2="344.30" stroke="#222" stroke-width="0.4" />
<text x="80.00" y="347.20" font-size="2.3" text-anchor="middle" fill="#333" font-weight="normal" >750</text>
<line x1="89.50" y1="343.20" x2="89.50" y2="344.30" stroke="#222" stroke-width="0.4" />
<text x="89.50" y="347.20" font-size="2.3" text-anchor="middle" fill="#333" font-weight="normal" >1000</text>
<line x1="100.00" y1="343.20" x2="100.00" y2="344.30" stroke="#222" stroke-width="0.4" />
<text x="100.00" y="347.20" font-size="2.3" text-anchor="middle" fill="#333" font-weight="normal" >1250</text>
<line x1="111.00" y1="343.20" x2="111.00" y2="344.30" stroke="#222" stroke-width="0.4" />
<text x="111.00" y="347.20" font-size="2.3" text-anchor="middle" fill="#333" font-weight="normal" >1500</text>
<line x1="20.50" y1="298.30" x2="21.60" y2="298.30" stroke="#222" stroke-width="0.4" />
<text x="20.00" y="299.15" font-size="2.3" text-anchor="end" fill="#333" font-weight="normal" >100.0</text>
<line x1="20.50" y1="302.95" x2="21.60" y2="302.95" stroke="#222" stroke-width="0.4" />
<text x="20.00" y="303.80" font-size="2.3" text-anchor="end" fill="#333" font-weight="normal" >99.5</text>
<line x1="20.50" y1="307.60" x2="21.60" y2="307.60" stroke="#222" stroke-width="0.4" />
<text x="20.00" y="308.45" font-size="2.3" text-anchor="end" fill="#333" font-weight="normal" >99.0</text>
<line x1="20.50" y1="310.60" x2="21.60" y2="310.60" stroke="#222" stroke-width="0.4" />
<text x="20.00" y="311.45" font-size="2.3" text-anchor="end" fill="#333" font-weight="normal" >60</text>
<line x1="20.50" y1="321.47" x2="21.60" y2="321.47" stroke="#222" stroke-width="0.4" />
<text x="20.00" y="322.32" font-size="2.3" text-anchor="end" fill="#333" font-weight="normal" >40</text>
<line x1="20.50" y1="332.33" x2="21.60" y2="332.33" stroke="#222" stroke-width="0.4" />
<text x="20.00" y="333.18" font-size="2.3" text-anchor="end" fill="#333" font-weight="normal" >20</text>
<line x1="20.50" y1="343.20" x2="21.60" y2="343.20" stroke="#222" stroke-width="0.4" />
<text x="20.00" y="344.05" font-size="2.3" text-anchor="end" fill="#333" font-weight="normal" >0</text>
<text x="12.10" y="321.95" font-size="2.6" text-anchor="middle" fill="#333" font-weight="normal" transform="rotate(-90 12.10 321.95)">%</text>
<text x="67.90" y="293.50" font-size="2.95" text-anchor="middle" fill="#111" font-weight="normal" stroke="#111" stroke-width="0.03" >UPN #11</text>
<text x="67.30" y="352.30" font-size="3.04" text-anchor="middle" fill="#111" font-weight="normal" stroke="#111" stroke-width="0.03" >Days after transplantation</text>
<polyline points="24.80,313.50 31.30,298.60 32.30,298.60 37.70,298.60 38.80,298.60 45.30,298.60 49.60,298.60 56.10,298.60 72.60,298.60 73.30,298.60 75.50,298.60 77.60,298.60 80.90,298.60 83.00,298.60 89.50,298.60 94.90,298.60 100.30,298.60 106.70,298.60 114.30,298.60" fill="none" stroke="#111" stroke-width="0.6" stroke-dasharray="1.6 0.9 0.4 0.9" stroke-linejoin="round" />
<rect x="23.85" y="312.55" width="1.90" height="1.90" fill="#000" />
<rect x="30.35" y="297.65" width="1.90" height="1.90" fill="#000" />
<rect x="31.35" y="297.65" width="1.90" height="1.90" fill="#000" />
<rect x="36.75" y="297.65" width="1.90" height="1.90" fill="#000" />
<rect x="37.85" y="297.65" width="1.90" height="1.90" fill="#000" />
<rect x="44.35" y="297.65" width="1.90" height="1.90" fill="#000" />
<rect x="48.65" y="297.65" width="1.90" height="1.90" fill="#000" />
<rect x="55.15" y="297.65" width="1.90" height="1.90" fill="#000" />
<rect x="71.65" y="297.65" width="1.90" height="1.90" fill="#000" />
<rect x="72.35" y="297.65" width="1.90" height="1.90" fill="#000" />
<rect x="74.55" y="297.65" width="1.90" height="1.90" fill="#000" />
<rect x="76.65" y="297.65" width="1.90" height="1.90" fill="#000" />
<rect x="79.95" y="297.65" width="1.90" height="1.90" fill="#000" />
<rect x="82.05" y="297.65" width="1.90" height="1.90" fill="#000" />
<rect x="88.55" y="297.65" width="1.90" height="1.90" fill="#000" />
<rect x="93.95" y="297.65" width="1.90" height="1.90" fill="#000" />
<rect x="99.35" y="297.65" width="1.90" height="1.90" fill="#000" />
<rect x="105.75" y="297.65" width="1.90" height="1.90" fill="#000" />
<rect x="113.35" y="297.65" width="1.90" height="1.90" fill="#000" />
<polyline points="22.10,310.60 22.10,328.30 24.80,339.60 31.30,342.90 32.30,342.90 37.70,342.90 38.80,342.90 45.30,342.90 49.60,342.90 56.10,342.90 72.60,342.90 73.30,342.90 75.50,342.90 77.60,342.90 80.90,342.90 83.00,342.90 89.50,342.90 94.90,342.90 100.30,342.90 106.70,342.90 114.30,342.90" fill="none" stroke="#111" stroke-width="0.7" stroke-linejoin="round" />
<circle cx="22.10" cy="328.30" r="0.85" fill="#000"/>
<circle cx="24.80" cy="339.60" r="0.85" fill="#000"/>
<circle cx="31.30" cy="342.90" r="0.85" fill="#000"/>
<circle cx="32.30" cy="342.90" r="0.85" fill="#000"/>
<circle cx="37.70" cy="342.90" r="0.85" fill="#000"/>
<circle cx="38.80" cy="342.90" r="0.85" fill="#000"/>
<circle cx="45.30" cy="342.90" r="0.85" fill="#000"/>
<circle cx="49.60" cy="342.90" r="0.85" fill="#000"/>
<circle cx="56.10" cy="342.90" r="0.85" fill="#000"/>
<circle cx="72.60" cy="342.90" r="0.85" fill="#000"/>
<circle cx="73.30" cy="342.90" r="0.85" fill="#000"/>
<circle cx="75.50" cy="342.90" r="0.85" fill="#000"/>
<circle cx="77.60" cy="342.90" r="0.85" fill="#000"/>
<circle cx="80.90" cy="342.90" r="0.85" fill="#000"/>
<circle cx="83.00" cy="342.90" r="0.85" fill="#000"/>
<circle cx="89.50" cy="342.90" r="0.85" fill="#000"/>
<circle cx="94.90" cy="342.90" r="0.85" fill="#000"/>
<circle cx="100.30" cy="342.90" r="0.85" fill="#000"/>
<circle cx="106.70" cy="342.90" r="0.85" fill="#000"/>
<circle cx="114.30" cy="342.90" r="0.85" fill="#000"/>
<polyline points="22.20,318.00 24.80,338.50 31.30,342.60" fill="none" stroke="#777" stroke-width="0.3" stroke-dasharray="0.4 0.7" stroke-linejoin="round" />
<polygon points="24.80,337.90 25.40,339.10 24.20,339.10" fill="#000"/>
<line x1="90.40" y1="313.90" x2="95.00" y2="313.90" stroke="#111" stroke-width="0.45" stroke-dasharray="1.6 0.9 0.4 0.9"/>
<rect x="91.90" y="313.10" width="1.60" height="1.60" fill="#000" />
<text x="98.10" y="314.75" font-size="2.26" text-anchor="start" fill="#222" font-weight="normal" >Chimerism</text>
<line x1="90.40" y1="319.00" x2="95.00" y2="319.00" stroke="#111" stroke-width="0.45" />
<circle cx="92.70" cy="319.00" r="0.80" fill="#000"/>
<text x="98.10" y="319.85" font-size="2.26" text-anchor="start" fill="#222" font-weight="normal" >IDH1R132C</text>
<line x1="90.40" y1="324.20" x2="95.00" y2="324.20" stroke="#111" stroke-width="0.45" stroke-dasharray="0.4 0.7"/>
<polygon points="92.70,323.40 93.50,325.00 91.90,325.00" fill="#000"/>
<text x="98.10" y="325.05" font-size="2.26" text-anchor="start" fill="#222" font-weight="normal" >JAK2</text>
<line x1="158.70" y1="299.40" x2="158.70" y2="319.50" stroke="#222" stroke-width="0.5" />
<line x1="158.70" y1="322.50" x2="158.70" y2="343.20" stroke="#222" stroke-width="0.5" />
<line x1="157.50" y1="319.50" x2="159.00" y2="319.50" stroke="#222" stroke-width="0.4" />
<line x1="157.50" y1="322.50" x2="159.00" y2="322.50" stroke="#222" stroke-width="0.4" />
<line x1="158.70" y1="343.20" x2="227.70" y2="343.20" stroke="#222" stroke-width="0.5" />
<line x1="158.70" y1="343.20" x2="158.70" y2="344.30" stroke="#222" stroke-width="0.4" />
<text x="158.70" y="347.20" font-size="2.5" text-anchor="middle" fill="#333" font-weight="normal" >0</text>
<line x1="181.40" y1="343.20" x2="181.40" y2="344.30" stroke="#222" stroke-width="0.4" />
<text x="181.40" y="347.20" font-size="2.5" text-anchor="middle" fill="#333" font-weight="normal" >100</text>
<line x1="204.40" y1="343.20" x2="204.40" y2="344.30" stroke="#222" stroke-width="0.4" />
<text x="204.40" y="347.20" font-size="2.5" text-anchor="middle" fill="#333" font-weight="normal" >200</text>
<line x1="227.70" y1="343.20" x2="227.70" y2="344.30" stroke="#222" stroke-width="0.4" />
<text x="227.70" y="347.20" font-size="2.5" text-anchor="middle" fill="#333" font-weight="normal" >300</text>
<line x1="157.60" y1="299.40" x2="158.70" y2="299.40" stroke="#222" stroke-width="0.4" />
<text x="157.10" y="300.25" font-size="2.5" text-anchor="end" fill="#333" font-weight="normal" >100</text>
<line x1="157.60" y1="303.42" x2="158.70" y2="303.42" stroke="#222" stroke-width="0.4" />
<text x="157.10" y="304.27" font-size="2.5" text-anchor="end" fill="#333" font-weight="normal" >98</text>
<line x1="157.60" y1="307.44" x2="158.70" y2="307.44" stroke="#222" stroke-width="0.4" />
<text x="157.10" y="308.29" font-size="2.5" text-anchor="end" fill="#333" font-weight="normal" >96</text>
<line x1="157.60" y1="311.46" x2="158.70" y2="311.46" stroke="#222" stroke-width="0.4" />
<text x="157.10" y="312.31" font-size="2.5" text-anchor="end" fill="#333" font-weight="normal" >94</text>
<line x1="157.60" y1="315.48" x2="158.70" y2="315.48" stroke="#222" stroke-width="0.4" />
<text x="157.10" y="316.33" font-size="2.5" text-anchor="end" fill="#333" font-weight="normal" >92</text>
<line x1="157.60" y1="319.50" x2="158.70" y2="319.50" stroke="#222" stroke-width="0.4" />
<text x="157.10" y="320.35" font-size="2.5" text-anchor="end" fill="#333" font-weight="normal" >90</text>
<line x1="157.60" y1="322.50" x2="158.70" y2="322.50" stroke="#222" stroke-width="0.4" />
<text x="157.10" y="323.35" font-size="2.5" text-anchor="end" fill="#333" font-weight="normal" >5</text>
<line x1="157.60" y1="326.64" x2="158.70" y2="326.64" stroke="#222" stroke-width="0.4" />
<text x="157.10" y="327.49" font-size="2.5" text-anchor="end" fill="#333" font-weight="normal" >4</text>
<line x1="157.60" y1="330.78" x2="158.70" y2="330.78" stroke="#222" stroke-width="0.4" />
<text x="157.10" y="331.63" font-size="2.5" text-anchor="end" fill="#333" font-weight="normal" >3</text>
<line x1="157.60" y1="334.92" x2="158.70" y2="334.92" stroke="#222" stroke-width="0.4" />
<text x="157.10" y="335.77" font-size="2.5" text-anchor="end" fill="#333" font-weight="normal" >2</text>
<line x1="157.60" y1="339.06" x2="158.70" y2="339.06" stroke="#222" stroke-width="0.4" />
<text x="157.10" y="339.91" font-size="2.5" text-anchor="end" fill="#333" font-weight="normal" >1</text>
<line x1="157.60" y1="343.20" x2="158.70" y2="343.20" stroke="#222" stroke-width="0.4" />
<text x="157.10" y="344.05" font-size="2.5" text-anchor="end" fill="#333" font-weight="normal" >0</text>
<text x="149.20" y="322.50" font-size="2.6" text-anchor="middle" fill="#333" font-weight="normal" transform="rotate(-90 149.20 322.50)">%</text>
<text x="193.80" y="293.50" font-size="3.35" text-anchor="middle" fill="#111" font-weight="normal" stroke="#111" stroke-width="0.03" >UPN #13</text>
<text x="192.10" y="352.30" font-size="3.16" text-anchor="middle" fill="#111" font-weight="normal" stroke="#111" stroke-width="0.03" >Days after transplantation</text>
<polyline points="176.00,311.70 198.00,316.70 201.80,299.40 216.90,299.40" fill="none" stroke="#111" stroke-width="0.6" stroke-dasharray="1.6 0.9 0.4 0.9" stroke-linejoin="round" />
<rect x="175.00" y="310.70" width="2.00" height="2.00" fill="#000" />
<rect x="197.00" y="315.70" width="2.00" height="2.00" fill="#000" />
<rect x="200.80" y="298.40" width="2.00" height="2.00" fill="#000" />
<rect x="215.90" y="298.40" width="2.00" height="2.00" fill="#000" />
<polyline points="158.70,331.70 176.00,342.70 198.00,342.70 201.80,343.00 216.90,342.70" fill="none" stroke="#111" stroke-width="0.75" stroke-linejoin="round" />
<circle cx="176.00" cy="342.70" r="0.85" fill="#000"/>
<circle cx="198.00" cy="342.70" r="0.85" fill="#000"/>
<circle cx="201.80" cy="343.00" r="0.85" fill="#000"/>
<circle cx="216.90" cy="342.70" r="0.85" fill="#000"/>
<polyline points="173.40,322.50 176.00,342.20 198.00,341.50 201.80,342.50" fill="none" stroke="#777" stroke-width="0.3" stroke-dasharray="0.4 0.7" stroke-linejoin="round" />
<polygon points="198.00,340.90 198.60,342.10 197.40,342.10" fill="#000"/>
<line x1="203.90" y1="315.60" x2="208.50" y2="315.60" stroke="#111" stroke-width="0.45" stroke-dasharray="1.6 0.9 0.4 0.9"/>
<rect x="205.40" y="314.80" width="1.60" height="1.60" fill="#000" />
<text x="211.20" y="316.45" font-size="2.75" text-anchor="start" fill="#222" font-weight="normal" >Chimerism</text>
<line x1="203.90" y1="321.00" x2="208.50" y2="321.00" stroke="#111" stroke-width="0.45" />
<circle cx="206.20" cy="321.00" r="0.80" fill="#000"/>
<text x="211.20" y="321.85" font-size="2.75" text-anchor="start" fill="#222" font-weight="normal" >IDH1R132C</text>
<line x1="203.90" y1="326.40" x2="208.50" y2="326.40" stroke="#111" stroke-width="0.45" stroke-dasharray="0.4 0.7"/>
<polygon points="206.20,325.60 207.00,327.20 205.40,327.20" fill="#000"/>
<text x="211.20" y="327.25" font-size="2.75" text-anchor="start" fill="#222" font-weight="normal" >JAK2</text>
<line x1="288.00" y1="218.70" x2="288.00" y2="237.40" stroke="#222" stroke-width="0.5" />
<line x1="288.00" y1="241.00" x2="288.00" y2="262.90" stroke="#222" stroke-width="0.5" />
<line x1="286.80" y1="237.40" x2="288.30" y2="237.40" stroke="#222" stroke-width="0.4" />
<line x1="286.80" y1="241.00" x2="288.30" y2="241.00" stroke="#222" stroke-width="0.4" />
<line x1="288.00" y1="262.90" x2="349.60" y2="262.90" stroke="#222" stroke-width="0.5" />
<line x1="288.00" y1="262.90" x2="288.00" y2="264.00" stroke="#222" stroke-width="0.4" />
<text x="288.00" y="266.90" font-size="2.1" text-anchor="middle" fill="#333" font-weight="normal" >0</text>
<line x1="308.50" y1="262.90" x2="308.50" y2="264.00" stroke="#222" stroke-width="0.4" />
<text x="308.50" y="266.90" font-size="2.1" text-anchor="middle" fill="#333" font-weight="normal" >50</text>
<line x1="329.20" y1="262.90" x2="329.20" y2="264.00" stroke="#222" stroke-width="0.4" />
<text x="329.20" y="266.90" font-size="2.1" text-anchor="middle" fill="#333" font-weight="normal" >100</text>
<line x1="349.60" y1="262.90" x2="349.60" y2="264.00" stroke="#222" stroke-width="0.4" />
<text x="349.60" y="266.90" font-size="2.1" text-anchor="middle" fill="#333" font-weight="normal" >150</text>
<line x1="286.90" y1="218.70" x2="288.00" y2="218.70" stroke="#222" stroke-width="0.4" />
<text x="286.40" y="219.55" font-size="2.1" text-anchor="end" fill="#333" font-weight="normal" >100.0</text>
<line x1="286.90" y1="222.44" x2="288.00" y2="222.44" stroke="#222" stroke-width="0.4" />
<text x="286.40" y="223.29" font-size="2.1" text-anchor="end" fill="#333" font-weight="normal" >99.8</text>
<line x1="286.90" y1="226.18" x2="288.00" y2="226.18" stroke="#222" stroke-width="0.4" />
<text x="286.40" y="227.03" font-size="2.1" text-anchor="end" fill="#333" font-weight="normal" >99.6</text>
<line x1="286.90" y1="229.92" x2="288.00" y2="229.92" stroke="#222" stroke-width="0.4" />
<text x="286.40" y="230.77" font-size="2.1" text-anchor="end" fill="#333" font-weight="normal" >99.4</text>
<line x1="286.90" y1="233.66" x2="288.00" y2="233.66" stroke="#222" stroke-width="0.4" />
<text x="286.40" y="234.51" font-size="2.1" text-anchor="end" fill="#333" font-weight="normal" >99.2</text>
<line x1="286.90" y1="237.40" x2="288.00" y2="237.40" stroke="#222" stroke-width="0.4" />
<text x="286.40" y="238.25" font-size="2.1" text-anchor="end" fill="#333" font-weight="normal" >99.0</text>
<line x1="286.90" y1="241.00" x2="288.00" y2="241.00" stroke="#222" stroke-width="0.4" />
<text x="286.40" y="241.85" font-size="2.1" text-anchor="end" fill="#333" font-weight="normal" >1.0</text>
<line x1="286.90" y1="245.38" x2="288.00" y2="245.38" stroke="#222" stroke-width="0.4" />
<text x="286.40" y="246.23" font-size="2.1" text-anchor="end" fill="#333" font-weight="normal" >0.8</text>
<line x1="286.90" y1="249.76" x2="288.00" y2="249.76" stroke="#222" stroke-width="0.4" />
<text x="286.40" y="250.61" font-size="2.1" text-anchor="end" fill="#333" font-weight="normal" >0.6</text>
<line x1="286.90" y1="254.14" x2="288.00" y2="254.14" stroke="#222" stroke-width="0.4" />
<text x="286.40" y="254.99" font-size="2.1" text-anchor="end" fill="#333" font-weight="normal" >0.4</text>
<line x1="286.90" y1="258.52" x2="288.00" y2="258.52" stroke="#222" stroke-width="0.4" />
<text x="286.40" y="259.37" font-size="2.1" text-anchor="end" fill="#333" font-weight="normal" >0.2</text>
<line x1="286.90" y1="262.90" x2="288.00" y2="262.90" stroke="#222" stroke-width="0.4" />
<text x="286.40" y="263.75" font-size="2.1" text-anchor="end" fill="#333" font-weight="normal" >0.0</text>
<text x="278.50" y="242.00" font-size="2.6" text-anchor="middle" fill="#333" font-weight="normal" transform="rotate(-90 278.50 242.00)">%</text>
<text x="321.60" y="214.20" font-size="2.6" text-anchor="middle" fill="#111" font-weight="normal" stroke="#111" stroke-width="0.03" >UPN #8</text>
<text x="318.80" y="271.30" font-size="3.0" text-anchor="middle" fill="#111" font-weight="normal" stroke="#111" stroke-width="0.03" >Days after transplantation</text>
<polyline points="293.00,222.90 298.70,231.00 311.00,222.90 337.00,220.00" fill="none" stroke="#111" stroke-width="0.4" stroke-linejoin="round" />
<circle cx="293.00" cy="222.90" r="0.85" fill="#000"/>
<circle cx="298.70" cy="231.00" r="0.85" fill="#000"/>
<circle cx="311.00" cy="222.90" r="0.85" fill="#000"/>
<circle cx="337.00" cy="220.00" r="0.85" fill="#000"/>
<polyline points="337.00,220.00 349.60,220.00" fill="none" stroke="#111" stroke-width="0.7" stroke-dasharray="0.6 1.6" stroke-linejoin="round" />
<polyline points="293.00,241.00 293.00,262.90 298.70,258.40 311.00,260.70 337.00,262.90" fill="none" stroke="#111" stroke-width="0.7" stroke-linejoin="round" />
<rect x="292.40" y="262.30" width="1.20" height="1.20" fill="#000" />
<rect x="298.10" y="257.80" width="1.20" height="1.20" fill="#000" />
<rect x="310.40" y="260.10" width="1.20" height="1.20" fill="#000" />
<rect x="336.40" y="262.30" width="1.20" height="1.20" fill="#000" />
<polyline points="293.50,262.50 298.70,255.60 311.00,260.40 337.00,262.60" fill="none" stroke="#666" stroke-width="0.3" stroke-linejoin="round" />
<polygon points="298.70,254.90 299.40,256.30 298.00,256.30" fill="#000"/>
<line x1="322.70" y1="236.00" x2="327.30" y2="236.00" stroke="#111" stroke-width="0.45" />
<circle cx="325.00" cy="236.00" r="0.80" fill="#000"/>
<text x="330.00" y="236.85" font-size="2.17" text-anchor="start" fill="#222" font-weight="normal" >Chimerism</text>
<line x1="322.70" y1="240.20" x2="327.30" y2="240.20" stroke="#111" stroke-width="0.45" />
<rect x="324.20" y="239.40" width="1.60" height="1.60" fill="#000" />
<text x="330.00" y="241.05" font-size="2.17" text-anchor="start" fill="#222" font-weight="normal" >IDH2R140Q</text>
<line x1="322.70" y1="244.70" x2="327.30" y2="244.70" stroke="#111" stroke-width="0.45" stroke-dasharray="0.4 0.7"/>
<polygon points="325.00,243.90 325.80,245.50 324.20,245.50" fill="#000"/>
<text x="330.00" y="245.55" font-size="2.17" text-anchor="start" fill="#222" font-weight="normal" >JAK2</text>
<line x1="377.40" y1="219.20" x2="377.40" y2="238.80" stroke="#222" stroke-width="0.5" />
<line x1="377.40" y1="241.60" x2="377.40" y2="261.20" stroke="#222" stroke-width="0.5" />
<line x1="376.20" y1="238.80" x2="377.70" y2="238.80" stroke="#222" stroke-width="0.4" />
<line x1="376.20" y1="241.60" x2="377.70" y2="241.60" stroke="#222" stroke-width="0.4" />
<line x1="377.40" y1="261.20" x2="437.60" y2="261.20" stroke="#222" stroke-width="0.5" />
<line x1="377.40" y1="261.20" x2="377.40" y2="262.30" stroke="#222" stroke-width="0.4" />
<text x="377.40" y="265.20" font-size="2.1" text-anchor="middle" fill="#333" font-weight="normal" >0</text>
<line x1="390.00" y1="261.20" x2="390.00" y2="262.30" stroke="#222" stroke-width="0.4" />
<text x="390.00" y="265.20" font-size="2.1" text-anchor="middle" fill="#333" font-weight="normal" >200</text>
<line x1="402.00" y1="261.20" x2="402.00" y2="262.30" stroke="#222" stroke-width="0.4" />
<text x="402.00" y="265.20" font-size="2.1" text-anchor="middle" fill="#333" font-weight="normal" >400</text>
<line x1="414.00" y1="261.20" x2="414.00" y2="262.30" stroke="#222" stroke-width="0.4" />
<text x="414.00" y="265.20" font-size="2.1" text-anchor="middle" fill="#333" font-weight="normal" >600</text>
<line x1="425.90" y1="261.20" x2="425.90" y2="262.30" stroke="#222" stroke-width="0.4" />
<text x="425.90" y="265.20" font-size="2.1" text-anchor="middle" fill="#333" font-weight="normal" >800</text>
<line x1="437.60" y1="261.20" x2="437.60" y2="262.30" stroke="#222" stroke-width="0.4" />
<text x="437.60" y="265.20" font-size="2.1" text-anchor="middle" fill="#333" font-weight="normal" >1000</text>
<line x1="376.30" y1="219.20" x2="377.40" y2="219.20" stroke="#222" stroke-width="0.4" />
<text x="375.80" y="220.05" font-size="2.1" text-anchor="end" fill="#333" font-weight="normal" >100.0</text>
<line x1="376.30" y1="223.12" x2="377.40" y2="223.12" stroke="#222" stroke-width="0.4" />
<text x="375.80" y="223.97" font-size="2.1" text-anchor="end" fill="#333" font-weight="normal" >99.9</text>
<line x1="376.30" y1="227.04" x2="377.40" y2="227.04" stroke="#222" stroke-width="0.4" />
<text x="375.80" y="227.89" font-size="2.1" text-anchor="end" fill="#333" font-weight="normal" >99.8</text>
<line x1="376.30" y1="230.96" x2="377.40" y2="230.96" stroke="#222" stroke-width="0.4" />
<text x="375.80" y="231.81" font-size="2.1" text-anchor="end" fill="#333" font-weight="normal" >99.7</text>
<line x1="376.30" y1="234.88" x2="377.40" y2="234.88" stroke="#222" stroke-width="0.4" />
<text x="375.80" y="235.73" font-size="2.1" text-anchor="end" fill="#333" font-weight="normal" >99.6</text>
<line x1="376.30" y1="238.80" x2="377.40" y2="238.80" stroke="#222" stroke-width="0.4" />
<text x="375.80" y="239.65" font-size="2.1" text-anchor="end" fill="#333" font-weight="normal" >99.5</text>
<line x1="376.30" y1="241.60" x2="377.40" y2="241.60" stroke="#222" stroke-width="0.4" />
<text x="375.80" y="242.45" font-size="2.1" text-anchor="end" fill="#333" font-weight="normal" >1.0</text>
<line x1="376.30" y1="245.52" x2="377.40" y2="245.52" stroke="#222" stroke-width="0.4" />
<text x="375.80" y="246.37" font-size="2.1" text-anchor="end" fill="#333" font-weight="normal" >0.8</text>
<line x1="376.30" y1="249.44" x2="377.40" y2="249.44" stroke="#222" stroke-width="0.4" />
<text x="375.80" y="250.29" font-size="2.1" text-anchor="end" fill="#333" font-weight="normal" >0.6</text>
<line x1="376.30" y1="253.36" x2="377.40" y2="253.36" stroke="#222" stroke-width="0.4" />
<text x="375.80" y="254.21" font-size="2.1" text-anchor="end" fill="#333" font-weight="normal" >0.4</text>
<line x1="376.30" y1="257.28" x2="377.40" y2="257.28" stroke="#222" stroke-width="0.4" />
<text x="375.80" y="258.13" font-size="2.1" text-anchor="end" fill="#333" font-weight="normal" >0.2</text>
<line x1="376.30" y1="261.20" x2="377.40" y2="261.20" stroke="#222" stroke-width="0.4" />
<text x="375.80" y="262.05" font-size="2.1" text-anchor="end" fill="#333" font-weight="normal" >0.0</text>
<text x="367.90" y="241.40" font-size="2.6" text-anchor="middle" fill="#333" font-weight="normal" transform="rotate(-90 367.90 241.40)">%</text>
<text x="409.00" y="214.20" font-size="2.96" text-anchor="middle" fill="#111" font-weight="normal" stroke="#111" stroke-width="0.03" >UPN #5</text>
<text x="407.70" y="270.70" font-size="2.98" text-anchor="middle" fill="#111" font-weight="normal" stroke="#111" stroke-width="0.03" >Days after transplantation</text>
<polyline points="378.20,227.00 380.20,222.90 383.00,231.30 388.60,222.90 428.70,222.90" fill="none" stroke="#111" stroke-width="0.6" stroke-dasharray="1.6 0.9 0.4 0.9" stroke-linejoin="round" />
<rect x="377.35" y="226.15" width="1.70" height="1.70" fill="#000" />
<rect x="379.35" y="222.05" width="1.70" height="1.70" fill="#000" />
<rect x="382.15" y="230.45" width="1.70" height="1.70" fill="#000" />
<rect x="387.75" y="222.05" width="1.70" height="1.70" fill="#000" />
<rect x="427.85" y="222.05" width="1.70" height="1.70" fill="#000" />
<polyline points="378.20,241.60 379.60,261.00 383.00,261.20 388.60,256.50 428.70,261.20" fill="none" stroke="#111" stroke-width="0.7" stroke-linejoin="round" />
<circle cx="379.60" cy="261.00" r="0.70" fill="#000"/>
<circle cx="383.00" cy="261.20" r="0.70" fill="#000"/>
<circle cx="388.60" cy="256.50" r="0.70" fill="#000"/>
<circle cx="428.70" cy="261.20" r="0.70" fill="#000"/>
<polyline points="378.80,243.00 380.20,258.50 383.00,260.70" fill="none" stroke="#666" stroke-width="0.3" stroke-dasharray="0.4 0.7" stroke-linejoin="round" />
<polygon points="380.20,257.90 380.80,259.10 379.60,259.10" fill="#000"/>
<line x1="410.70" y1="238.30" x2="415.30" y2="238.30" stroke="#111" stroke-width="0.45" stroke-dasharray="1.6 0.9 0.4 0.9"/>
<rect x="412.20" y="237.50" width="1.60" height="1.60" fill="#000" />
<text x="418.00" y="239.15" font-size="2.17" text-anchor="start" fill="#222" font-weight="normal" >Chimerism</text>
<line x1="410.70" y1="242.20" x2="415.30" y2="242.20" stroke="#111" stroke-width="0.45" />
<circle cx="413.00" cy="242.20" r="0.80" fill="#000"/>
<text x="418.00" y="243.05" font-size="2.17" text-anchor="start" fill="#222" font-weight="normal" >IDH2R140Q</text>
<line x1="410.70" y1="246.40" x2="415.30" y2="246.40" stroke="#111" stroke-width="0.45" stroke-dasharray="0.4 0.7"/>
<polygon points="413.00,245.60 413.80,247.20 412.20,247.20" fill="#000"/>
<text x="418.00" y="247.25" font-size="2.17" text-anchor="start" fill="#222" font-weight="normal" >JAK2</text>
<line x1="327.90" y1="295.70" x2="327.90" y2="299.10" stroke="#222" stroke-width="0.5" />
<line x1="327.90" y1="302.60" x2="327.90" y2="341.60" stroke="#222" stroke-width="0.5" />
<line x1="326.70" y1="299.10" x2="328.20" y2="299.10" stroke="#222" stroke-width="0.4" />
<line x1="326.70" y1="302.60" x2="328.20" y2="302.60" stroke="#222" stroke-width="0.4" />
<line x1="327.90" y1="341.60" x2="397.30" y2="341.60" stroke="#222" stroke-width="0.5" />
<line x1="327.90" y1="341.60" x2="327.90" y2="342.70" stroke="#222" stroke-width="0.4" />
<text x="327.90" y="345.60" font-size="2.4" text-anchor="middle" fill="#333" font-weight="normal" >0</text>
<line x1="341.70" y1="341.60" x2="341.70" y2="342.70" stroke="#222" stroke-width="0.4" />
<text x="341.70" y="345.60" font-size="2.4" text-anchor="middle" fill="#333" font-weight="normal" >20</text>
<line x1="355.50" y1="341.60" x2="355.50" y2="342.70" stroke="#222" stroke-width="0.4" />
<text x="355.50" y="345.60" font-size="2.4" text-anchor="middle" fill="#333" font-weight="normal" >40</text>
<line x1="369.20" y1="341.60" x2="369.20" y2="342.70" stroke="#222" stroke-width="0.4" />
<text x="369.20" y="345.60" font-size="2.4" text-anchor="middle" fill="#333" font-weight="normal" >60</text>
<line x1="383.00" y1="341.60" x2="383.00" y2="342.70" stroke="#222" stroke-width="0.4" />
<text x="383.00" y="345.60" font-size="2.4" text-anchor="middle" fill="#333" font-weight="normal" >80</text>
<line x1="397.30" y1="341.60" x2="397.30" y2="342.70" stroke="#222" stroke-width="0.4" />
<text x="397.30" y="345.60" font-size="2.4" text-anchor="middle" fill="#333" font-weight="normal" >100</text>
<line x1="326.80" y1="295.70" x2="327.90" y2="295.70" stroke="#222" stroke-width="0.4" />
<text x="326.30" y="296.55" font-size="2.4" text-anchor="end" fill="#333" font-weight="normal" >100</text>
<line x1="326.80" y1="299.10" x2="327.90" y2="299.10" stroke="#222" stroke-width="0.4" />
<text x="326.30" y="299.95" font-size="2.4" text-anchor="end" fill="#333" font-weight="normal" >98</text>
<line x1="326.80" y1="302.60" x2="327.90" y2="302.60" stroke="#222" stroke-width="0.4" />
<text x="326.30" y="303.45" font-size="2.4" text-anchor="end" fill="#333" font-weight="normal" >60</text>
<line x1="326.80" y1="315.60" x2="327.90" y2="315.60" stroke="#222" stroke-width="0.4" />
<text x="326.30" y="316.45" font-size="2.4" text-anchor="end" fill="#333" font-weight="normal" >40</text>
<line x1="326.80" y1="328.60" x2="327.90" y2="328.60" stroke="#222" stroke-width="0.4" />
<text x="326.30" y="329.45" font-size="2.4" text-anchor="end" fill="#333" font-weight="normal" >20</text>
<line x1="326.80" y1="341.60" x2="327.90" y2="341.60" stroke="#222" stroke-width="0.4" />
<text x="326.30" y="342.45" font-size="2.4" text-anchor="end" fill="#333" font-weight="normal" >0</text>
<text x="318.40" y="319.85" font-size="2.6" text-anchor="middle" fill="#333" font-weight="normal" transform="rotate(-90 318.40 319.85)">%</text>
<text x="361.00" y="290.00" font-size="3.34" text-anchor="middle" fill="#111" font-weight="normal" stroke="#111" stroke-width="0.03" >UPN #6</text>
<text x="362.40" y="351.40" font-size="3.04" text-anchor="middle" fill="#111" font-weight="normal" stroke="#111" stroke-width="0.03" >Days after transplantation</text>
<polyline points="340.50,304.20 344.90,317.50 349.70,332.40 366.70,296.40 389.70,295.70" fill="none" stroke="#111" stroke-width="0.6" stroke-dasharray="1.6 0.9 0.4 0.9" stroke-linejoin="round" />
<rect x="339.50" y="303.20" width="2.00" height="2.00" fill="#000" />
<rect x="343.90" y="316.50" width="2.00" height="2.00" fill="#000" />
<rect x="348.70" y="331.40" width="2.00" height="2.00" fill="#000" />
<rect x="365.70" y="295.40" width="2.00" height="2.00" fill="#000" />
<rect x="388.70" y="294.70" width="2.00" height="2.00" fill="#000" />
<polyline points="327.90,306.70 340.50,339.30 344.90,335.80 349.70,333.60 366.70,341.40" fill="none" stroke="#333" stroke-width="0.35" stroke-linejoin="round" />
<polygon points="327.90,306.00 328.60,307.40 327.20,307.40" fill="#000"/>
<polygon points="340.50,338.60 341.20,340.00 339.80,340.00" fill="#000"/>
<polygon points="344.90,335.10 345.60,336.50 344.20,336.50" fill="#000"/>
<polygon points="349.70,332.90 350.40,334.30 349.00,334.30" fill="#000"/>
<polygon points="366.70,340.70 367.40,342.10 366.00,342.10" fill="#000"/>
<polyline points="327.90,340.40 340.50,341.40 344.90,341.40 349.70,341.40 366.70,341.40 389.70,341.40" fill="none" stroke="#111" stroke-width="0.75" stroke-linejoin="round" />
<circle cx="327.90" cy="340.40" r="0.85" fill="#000"/>
<circle cx="340.50" cy="341.40" r="0.85" fill="#000"/>
<circle cx="344.90" cy="341.40" r="0.85" fill="#000"/>
<circle cx="349.70" cy="341.40" r="0.85" fill="#000"/>
<circle cx="366.70" cy="341.40" r="0.85" fill="#000"/>
<circle cx="389.70" cy="341.40" r="0.85" fill="#000"/>
<line x1="369.20" y1="316.30" x2="373.80" y2="316.30" stroke="#111" stroke-width="0.45" stroke-dasharray="1.6 0.9 0.4 0.9"/>
<rect x="370.70" y="315.50" width="1.60" height="1.60" fill="#000" />
<text x="376.60" y="317.15" font-size="2.3" text-anchor="start" fill="#222" font-weight="normal" >Chimerism</text>
<line x1="369.20" y1="320.20" x2="373.80" y2="320.20" stroke="#111" stroke-width="0.45" />
<circle cx="371.50" cy="320.20" r="0.80" fill="#000"/>
<text x="376.60" y="321.05" font-size="2.3" text-anchor="start" fill="#222" font-weight="normal" >IDH2R140Q</text>
<line x1="369.20" y1="324.40" x2="373.80" y2="324.40" stroke="#111" stroke-width="0.45" />
<polygon points="371.50,323.60 372.30,325.20 370.70,325.20" fill="#000"/>
<text x="376.60" y="325.25" font-size="2.3" text-anchor="start" fill="#222" font-weight="normal" >JAK2</text>
<line x1="486.90" y1="213.30" x2="486.90" y2="229.20" stroke="#222" stroke-width="0.5" />
<line x1="486.90" y1="231.90" x2="486.90" y2="266.50" stroke="#222" stroke-width="0.5" />
<line x1="485.70" y1="229.20" x2="487.20" y2="229.20" stroke="#222" stroke-width="0.4" />
<line x1="485.70" y1="231.90" x2="487.20" y2="231.90" stroke="#222" stroke-width="0.4" />
<line x1="486.90" y1="266.50" x2="553.50" y2="266.50" stroke="#222" stroke-width="0.5" />
<line x1="486.90" y1="266.50" x2="486.90" y2="267.60" stroke="#222" stroke-width="0.4" />
<text x="486.90" y="270.50" font-size="2.1" text-anchor="middle" fill="#333" font-weight="normal" >0</text>
<line x1="509.00" y1="266.50" x2="509.00" y2="267.60" stroke="#222" stroke-width="0.4" />
<text x="509.00" y="270.50" font-size="2.1" text-anchor="middle" fill="#333" font-weight="normal" >50</text>
<line x1="530.80" y1="266.50" x2="530.80" y2="267.60" stroke="#222" stroke-width="0.4" />
<text x="530.80" y="270.50" font-size="2.1" text-anchor="middle" fill="#333" font-weight="normal" >100</text>
<line x1="553.50" y1="266.50" x2="553.50" y2="267.60" stroke="#222" stroke-width="0.4" />
<text x="553.50" y="270.50" font-size="2.1" text-anchor="middle" fill="#333" font-weight="normal" >150</text>
<line x1="485.80" y1="213.30" x2="486.90" y2="213.30" stroke="#222" stroke-width="0.4" />
<text x="485.30" y="214.15" font-size="2.1" text-anchor="end" fill="#333" font-weight="normal" >100</text>
<line x1="485.80" y1="218.60" x2="486.90" y2="218.60" stroke="#222" stroke-width="0.4" />
<text x="485.30" y="219.45" font-size="2.1" text-anchor="end" fill="#333" font-weight="normal" >90</text>
<line x1="485.80" y1="223.90" x2="486.90" y2="223.90" stroke="#222" stroke-width="0.4" />
<text x="485.30" y="224.75" font-size="2.1" text-anchor="end" fill="#333" font-weight="normal" >80</text>
<line x1="485.80" y1="229.20" x2="486.90" y2="229.20" stroke="#222" stroke-width="0.4" />
<text x="485.30" y="230.05" font-size="2.1" text-anchor="end" fill="#333" font-weight="normal" >70</text>
<line x1="485.80" y1="231.90" x2="486.90" y2="231.90" stroke="#222" stroke-width="0.4" />
<text x="485.30" y="232.75" font-size="2.1" text-anchor="end" fill="#333" font-weight="normal" >10</text>
<line x1="485.80" y1="249.20" x2="486.90" y2="249.20" stroke="#222" stroke-width="0.4" />
<text x="485.30" y="250.05" font-size="2.1" text-anchor="end" fill="#333" font-weight="normal" >5</text>
<line x1="485.80" y1="266.50" x2="486.90" y2="266.50" stroke="#222" stroke-width="0.4" />
<text x="485.30" y="267.35" font-size="2.1" text-anchor="end" fill="#333" font-weight="normal" >0</text>
<text x="477.40" y="241.10" font-size="2.6" text-anchor="middle" fill="#333" font-weight="normal" transform="rotate(-90 477.40 241.10)">%</text>
<text x="521.50" y="208.60" font-size="2.3" text-anchor="middle" fill="#111" font-weight="normal" stroke="#111" stroke-width="0.03" >UPN #4</text>
<text x="518.30" y="274.20" font-size="2.85" text-anchor="middle" fill="#111" font-weight="normal" stroke="#111" stroke-width="0.03" >Days after transplantation</text>
<polyline points="495.70,222.00 512.20,219.40 518.30,224.70 527.60,228.70 543.30,213.80" fill="none" stroke="#111" stroke-width="0.4" stroke-dasharray="1.6 0.9 0.4 0.9" stroke-linejoin="round" />
<rect x="494.90" y="221.20" width="1.60" height="1.60" fill="#000" />
<rect x="511.40" y="218.60" width="1.60" height="1.60" fill="#000" />
<rect x="517.50" y="223.90" width="1.60" height="1.60" fill="#000" />
<rect x="526.80" y="227.90" width="1.60" height="1.60" fill="#000" />
<rect x="542.50" y="213.00" width="1.60" height="1.60" fill="#000" />
<polyline points="495.70,231.90 512.20,255.60 518.30,251.80 527.60,246.50 543.30,266.00" fill="none" stroke="#555" stroke-width="0.3" stroke-linejoin="round" />
<polygon points="495.70,231.30 496.30,232.50 495.10,232.50" fill="#000"/>
<polygon points="512.20,255.00 512.80,256.20 511.60,256.20" fill="#000"/>
<polygon points="518.30,251.20 518.90,252.40 517.70,252.40" fill="#000"/>
<polygon points="527.60,245.90 528.20,247.10 527.00,247.10" fill="#000"/>
<polygon points="543.30,265.40 543.90,266.60 542.70,266.60" fill="#000"/>
<polyline points="495.70,231.90 512.20,255.30 518.30,251.30 527.60,242.50 543.30,266.00" fill="none" stroke="#111" stroke-width="0.8" stroke-linejoin="round" />
<circle cx="495.70" cy="231.90" r="0.75" fill="#000"/>
<circle cx="512.20" cy="255.30" r="0.75" fill="#000"/>
<circle cx="518.30" cy="251.30" r="0.75" fill="#000"/>
<circle cx="527.60" cy="242.50" r="0.75" fill="#000"/>
<circle cx="543.30" cy="266.00" r="0.75" fill="#000"/>
<line x1="538.40" y1="231.10" x2="543.00" y2="231.10" stroke="#111" stroke-width="0.45" stroke-dasharray="1.6 0.9 0.4 0.9"/>
<rect x="539.90" y="230.30" width="1.60" height="1.60" fill="#000" />
<text x="545.50" y="231.95" font-size="2.1" text-anchor="start" fill="#222" font-weight="normal" >Chimerism</text>
<line x1="538.40" y1="235.30" x2="543.00" y2="235.30" stroke="#111" stroke-width="0.45" />
<circle cx="540.70" cy="235.30" r="0.80" fill="#000"/>
<text x="545.50" y="236.15" font-size="2.1" text-anchor="start" fill="#222" font-weight="normal" >DNMT3AR882H</text>
<line x1="538.40" y1="239.90" x2="543.00" y2="239.90" stroke="#111" stroke-width="0.45" />
<polygon points="540.70,239.10 541.50,240.70 539.90,240.70" fill="#000"/>
<text x="545.50" y="240.75" font-size="2.1" text-anchor="start" fill="#222" font-weight="normal" >CALR</text>
<line x1="592.10" y1="215.10" x2="592.10" y2="217.30" stroke="#222" stroke-width="0.5" />
<line x1="592.10" y1="219.90" x2="592.10" y2="260.60" stroke="#222" stroke-width="0.5" />
<line x1="590.90" y1="217.30" x2="592.40" y2="217.30" stroke="#222" stroke-width="0.4" />
<line x1="590.90" y1="219.90" x2="592.40" y2="219.90" stroke="#222" stroke-width="0.4" />
<line x1="592.10" y1="260.60" x2="661.30" y2="260.60" stroke="#222" stroke-width="0.5" />
<line x1="592.10" y1="260.60" x2="592.10" y2="261.70" stroke="#222" stroke-width="0.4" />
<text x="592.10" y="264.60" font-size="2.3" text-anchor="middle" fill="#333" font-weight="normal" >0</text>
<line x1="615.20" y1="260.60" x2="615.20" y2="261.70" stroke="#222" stroke-width="0.4" />
<text x="615.20" y="264.60" font-size="2.3" text-anchor="middle" fill="#333" font-weight="normal" >200</text>
<line x1="638.20" y1="260.60" x2="638.20" y2="261.70" stroke="#222" stroke-width="0.4" />
<text x="638.20" y="264.60" font-size="2.3" text-anchor="middle" fill="#333" font-weight="normal" >400</text>
<line x1="661.30" y1="260.60" x2="661.30" y2="261.70" stroke="#222" stroke-width="0.4" />
<text x="661.30" y="264.60" font-size="2.3" text-anchor="middle" fill="#333" font-weight="normal" >600</text>
<line x1="591.00" y1="215.10" x2="592.10" y2="215.10" stroke="#222" stroke-width="0.4" />
<text x="590.50" y="215.95" font-size="2.3" text-anchor="end" fill="#333" font-weight="normal" >100</text>
<line x1="591.00" y1="217.30" x2="592.10" y2="217.30" stroke="#222" stroke-width="0.4" />
<text x="590.50" y="218.15" font-size="2.3" text-anchor="end" fill="#333" font-weight="normal" >99</text>
<line x1="591.00" y1="219.90" x2="592.10" y2="219.90" stroke="#222" stroke-width="0.4" />
<text x="590.50" y="220.75" font-size="2.3" text-anchor="end" fill="#333" font-weight="normal" >10</text>
<line x1="591.00" y1="228.04" x2="592.10" y2="228.04" stroke="#222" stroke-width="0.4" />
<text x="590.50" y="228.89" font-size="2.3" text-anchor="end" fill="#333" font-weight="normal" >8</text>
<line x1="591.00" y1="236.18" x2="592.10" y2="236.18" stroke="#222" stroke-width="0.4" />
<text x="590.50" y="237.03" font-size="2.3" text-anchor="end" fill="#333" font-weight="normal" >6</text>
<line x1="591.00" y1="244.32" x2="592.10" y2="244.32" stroke="#222" stroke-width="0.4" />
<text x="590.50" y="245.17" font-size="2.3" text-anchor="end" fill="#333" font-weight="normal" >4</text>
<line x1="591.00" y1="252.46" x2="592.10" y2="252.46" stroke="#222" stroke-width="0.4" />
<text x="590.50" y="253.31" font-size="2.3" text-anchor="end" fill="#333" font-weight="normal" >2</text>
<line x1="591.00" y1="260.60" x2="592.10" y2="260.60" stroke="#222" stroke-width="0.4" />
<text x="590.50" y="261.45" font-size="2.3" text-anchor="end" fill="#333" font-weight="normal" >0</text>
<text x="582.60" y="239.05" font-size="2.6" text-anchor="middle" fill="#333" font-weight="normal" transform="rotate(-90 582.60 239.05)">%</text>
<text x="625.70" y="209.70" font-size="2.5" text-anchor="middle" fill="#111" font-weight="normal" stroke="#111" stroke-width="0.03" >UPN #9</text>
<text x="625.70" y="270.20" font-size="3.09" text-anchor="middle" fill="#111" font-weight="normal" stroke="#111" stroke-width="0.03" >Days after transplantation</text>
<polyline points="592.90,215.90 595.60,215.90 603.60,215.90 616.90,215.90 652.80,215.90" fill="none" stroke="#111" stroke-width="0.6" stroke-dasharray="1.6 0.9 0.4 0.9" stroke-linejoin="round" />
<rect x="591.90" y="214.90" width="2.00" height="2.00" fill="#000" />
<rect x="594.60" y="214.90" width="2.00" height="2.00" fill="#000" />
<rect x="602.60" y="214.90" width="2.00" height="2.00" fill="#000" />
<rect x="615.90" y="214.90" width="2.00" height="2.00" fill="#000" />
<rect x="651.80" y="214.90" width="2.00" height="2.00" fill="#000" />
<polyline points="592.90,227.90 595.60,260.60 603.60,260.60 616.90,260.60 652.80,260.60" fill="none" stroke="#111" stroke-width="0.8" stroke-linejoin="round" />
<circle cx="592.90" cy="227.90" r="0.85" fill="#000"/>
<circle cx="595.60" cy="260.60" r="0.85" fill="#000"/>
<circle cx="603.60" cy="260.60" r="0.85" fill="#000"/>
<circle cx="616.90" cy="260.60" r="0.85" fill="#000"/>
<circle cx="652.80" cy="260.60" r="0.85" fill="#000"/>
<polyline points="592.90,221.50 593.30,224.50 595.60,260.00" fill="none" stroke="#666" stroke-width="0.3" stroke-dasharray="0.4 0.7" stroke-linejoin="round" />
<polygon points="592.90,220.90 593.50,222.10 592.30,222.10" fill="#000"/>
<polygon points="593.30,223.90 593.90,225.10 592.70,225.10" fill="#000"/>
<line x1="626.60" y1="231.90" x2="631.20" y2="231.90" stroke="#111" stroke-width="0.45" stroke-dasharray="1.6 0.9 0.4 0.9"/>
<rect x="628.10" y="231.10" width="1.60" height="1.60" fill="#000" />
<text x="634.70" y="232.75" font-size="2.4" text-anchor="start" fill="#222" font-weight="normal" >Chimerism</text>
<line x1="626.60" y1="237.20" x2="631.20" y2="237.20" stroke="#111" stroke-width="0.45" />
<circle cx="628.90" cy="237.20" r="0.80" fill="#000"/>
<text x="634.70" y="238.05" font-size="2.4" text-anchor="start" fill="#222" font-weight="normal" >DNMT3AR882H</text>
<line x1="626.60" y1="243.10" x2="631.20" y2="243.10" stroke="#111" stroke-width="0.45" stroke-dasharray="0.4 0.7"/>
<polygon points="628.90,242.30 629.70,243.90 628.10,243.90" fill="#000"/>
<text x="634.70" y="243.95" font-size="2.4" text-anchor="start" fill="#222" font-weight="normal" >JAK2</text>
<line x1="486.20" y1="297.30" x2="486.20" y2="317.60" stroke="#222" stroke-width="0.5" />
<line x1="486.20" y1="320.50" x2="486.20" y2="342.40" stroke="#222" stroke-width="0.5" />
<line x1="485.00" y1="317.60" x2="486.50" y2="317.60" stroke="#222" stroke-width="0.4" />
<line x1="485.00" y1="320.50" x2="486.50" y2="320.50" stroke="#222" stroke-width="0.4" />
<line x1="486.20" y1="342.40" x2="545.70" y2="342.40" stroke="#222" stroke-width="0.5" />
<line x1="486.20" y1="342.40" x2="486.20" y2="343.50" stroke="#222" stroke-width="0.4" />
<text x="486.20" y="346.40" font-size="2.2" text-anchor="middle" fill="#333" font-weight="normal" >0</text>
<line x1="506.20" y1="342.40" x2="506.20" y2="343.50" stroke="#222" stroke-width="0.4" />
<text x="506.20" y="346.40" font-size="2.2" text-anchor="middle" fill="#333" font-weight="normal" >50</text>
<line x1="526.20" y1="342.40" x2="526.20" y2="343.50" stroke="#222" stroke-width="0.4" />
<text x="526.20" y="346.40" font-size="2.2" text-anchor="middle" fill="#333" font-weight="normal" >100</text>
<line x1="545.70" y1="342.40" x2="545.70" y2="343.50" stroke="#222" stroke-width="0.4" />
<text x="545.70" y="346.40" font-size="2.2" text-anchor="middle" fill="#333" font-weight="normal" >150</text>
<line x1="485.10" y1="297.30" x2="486.20" y2="297.30" stroke="#222" stroke-width="0.4" />
<text x="484.60" y="298.15" font-size="2.2" text-anchor="end" fill="#333" font-weight="normal" >100</text>
<line x1="485.10" y1="307.45" x2="486.20" y2="307.45" stroke="#222" stroke-width="0.4" />
<text x="484.60" y="308.30" font-size="2.2" text-anchor="end" fill="#333" font-weight="normal" >90</text>
<line x1="485.10" y1="317.60" x2="486.20" y2="317.60" stroke="#222" stroke-width="0.4" />
<text x="484.60" y="318.45" font-size="2.2" text-anchor="end" fill="#333" font-weight="normal" >80</text>
<line x1="485.10" y1="320.50" x2="486.20" y2="320.50" stroke="#222" stroke-width="0.4" />
<text x="484.60" y="321.35" font-size="2.2" text-anchor="end" fill="#333" font-weight="normal" >2.5</text>
<line x1="485.10" y1="324.88" x2="486.20" y2="324.88" stroke="#222" stroke-width="0.4" />
<text x="484.60" y="325.73" font-size="2.2" text-anchor="end" fill="#333" font-weight="normal" >2.0</text>
<line x1="485.10" y1="329.26" x2="486.20" y2="329.26" stroke="#222" stroke-width="0.4" />
<text x="484.60" y="330.11" font-size="2.2" text-anchor="end" fill="#333" font-weight="normal" >1.5</text>
<line x1="485.10" y1="333.64" x2="486.20" y2="333.64" stroke="#222" stroke-width="0.4" />
<text x="484.60" y="334.49" font-size="2.2" text-anchor="end" fill="#333" font-weight="normal" >1.0</text>
<line x1="485.10" y1="338.02" x2="486.20" y2="338.02" stroke="#222" stroke-width="0.4" />
<text x="484.60" y="338.87" font-size="2.2" text-anchor="end" fill="#333" font-weight="normal" >0.5</text>
<line x1="485.10" y1="342.40" x2="486.20" y2="342.40" stroke="#222" stroke-width="0.4" />
<text x="484.60" y="343.25" font-size="2.2" text-anchor="end" fill="#333" font-weight="normal" >0.0</text>
<text x="476.70" y="321.05" font-size="2.6" text-anchor="middle" fill="#333" font-weight="normal" transform="rotate(-90 476.70 321.05)">%</text>
<text x="519.60" y="292.40" font-size="2.8" text-anchor="middle" fill="#111" font-weight="normal" stroke="#111" stroke-width="0.03" >UPN #2</text>
<text x="514.80" y="351.60" font-size="2.72" text-anchor="middle" fill="#111" font-weight="normal" stroke="#111" stroke-width="0.03" >Days after transplantation</text>
<polyline points="494.00,301.00 514.30,312.20 522.00,313.20 525.70,307.80 542.00,297.60" fill="none" stroke="#111" stroke-width="0.6" stroke-dasharray="1.6 0.9 0.4 0.9" stroke-linejoin="round" />
<rect x="493.05" y="300.05" width="1.90" height="1.90" fill="#000" />
<rect x="513.35" y="311.25" width="1.90" height="1.90" fill="#000" />
<rect x="521.05" y="312.25" width="1.90" height="1.90" fill="#000" />
<rect x="524.75" y="306.85" width="1.90" height="1.90" fill="#000" />
<rect x="541.05" y="296.65" width="1.90" height="1.90" fill="#000" />
<polyline points="494.00,338.00 514.30,324.10 522.00,325.60 525.70,322.40 542.00,342.40" fill="none" stroke="#444" stroke-width="0.3" stroke-linejoin="round" />
<polygon points="494.00,337.35 494.65,338.65 493.35,338.65" fill="#000"/>
<polygon points="514.30,323.45 514.95,324.75 513.65,324.75" fill="#000"/>
<polygon points="522.00,324.95 522.65,326.25 521.35,326.25" fill="#000"/>
<polygon points="525.70,321.75 526.35,323.05 525.05,323.05" fill="#000"/>
<polygon points="542.00,341.75 542.65,343.05 541.35,343.05" fill="#000"/>
<polyline points="493.40,320.50 494.00,338.30 514.30,326.80 522.00,325.40 525.70,325.60 542.00,342.40" fill="none" stroke="#111" stroke-width="0.8" stroke-linejoin="round" />
<circle cx="494.00" cy="338.30" r="0.75" fill="#000"/>
<circle cx="514.30" cy="326.80" r="0.75" fill="#000"/>
<circle cx="522.00" cy="325.40" r="0.75" fill="#000"/>
<circle cx="525.70" cy="325.60" r="0.75" fill="#000"/>
<circle cx="542.00" cy="342.40" r="0.75" fill="#000"/>
<line x1="531.20" y1="312.70" x2="535.80" y2="312.70" stroke="#111" stroke-width="0.45" stroke-dasharray="1.6 0.9 0.4 0.9"/>
<rect x="532.70" y="311.90" width="1.60" height="1.60" fill="#000" />
<text x="537.90" y="313.55" font-size="2.3" text-anchor="start" fill="#222" font-weight="normal" >Chimerism</text>
<line x1="531.20" y1="317.10" x2="535.80" y2="317.10" stroke="#111" stroke-width="0.45" />
<circle cx="533.50" cy="317.10" r="0.80" fill="#000"/>
<text x="537.90" y="317.95" font-size="2.3" text-anchor="start" fill="#222" font-weight="normal" >DNMT3AR882H</text>
<line x1="531.20" y1="322.00" x2="535.80" y2="322.00" stroke="#111" stroke-width="0.45" />
<polygon points="533.50,321.20 534.30,322.80 532.70,322.80" fill="#000"/>
<text x="537.90" y="322.85" font-size="2.3" text-anchor="start" fill="#222" font-weight="normal" >CALR</text>
<line x1="592.60" y1="297.30" x2="592.60" y2="318.30" stroke="#222" stroke-width="0.5" />
<line x1="592.60" y1="321.20" x2="592.60" y2="342.40" stroke="#222" stroke-width="0.5" />
<line x1="591.40" y1="318.30" x2="592.90" y2="318.30" stroke="#222" stroke-width="0.4" />
<line x1="591.40" y1="321.20" x2="592.90" y2="321.20" stroke="#222" stroke-width="0.4" />
<line x1="592.60" y1="342.40" x2="661.30" y2="342.40" stroke="#222" stroke-width="0.5" />
<line x1="592.60" y1="342.40" x2="592.60" y2="343.50" stroke="#222" stroke-width="0.4" />
<text x="592.60" y="346.40" font-size="2.3" text-anchor="middle" fill="#333" font-weight="normal" >0</text>
<line x1="615.00" y1="342.40" x2="615.00" y2="343.50" stroke="#222" stroke-width="0.4" />
<text x="615.00" y="346.40" font-size="2.3" text-anchor="middle" fill="#333" font-weight="normal" >200</text>
<line x1="637.40" y1="342.40" x2="637.40" y2="343.50" stroke="#222" stroke-width="0.4" />
<text x="637.40" y="346.40" font-size="2.3" text-anchor="middle" fill="#333" font-weight="normal" >400</text>
<line x1="661.30" y1="342.40" x2="661.30" y2="343.50" stroke="#222" stroke-width="0.4" />
<text x="661.30" y="346.40" font-size="2.3" text-anchor="middle" fill="#333" font-weight="normal" >600</text>
<line x1="591.50" y1="297.30" x2="592.60" y2="297.30" stroke="#222" stroke-width="0.4" />
<text x="591.00" y="298.15" font-size="2.3" text-anchor="end" fill="#333" font-weight="normal" >100.0</text>
<line x1="591.50" y1="301.50" x2="592.60" y2="301.50" stroke="#222" stroke-width="0.4" />
<text x="591.00" y="302.35" font-size="2.3" text-anchor="end" fill="#333" font-weight="normal" >99.9</text>
<line x1="591.50" y1="305.70" x2="592.60" y2="305.70" stroke="#222" stroke-width="0.4" />
<text x="591.00" y="306.55" font-size="2.3" text-anchor="end" fill="#333" font-weight="normal" >99.8</text>
<line x1="591.50" y1="309.90" x2="592.60" y2="309.90" stroke="#222" stroke-width="0.4" />
<text x="591.00" y="310.75" font-size="2.3" text-anchor="end" fill="#333" font-weight="normal" >99.7</text>
<line x1="591.50" y1="314.10" x2="592.60" y2="314.10" stroke="#222" stroke-width="0.4" />
<text x="591.00" y="314.95" font-size="2.3" text-anchor="end" fill="#333" font-weight="normal" >99.6</text>
<line x1="591.50" y1="318.30" x2="592.60" y2="318.30" stroke="#222" stroke-width="0.4" />
<text x="591.00" y="319.15" font-size="2.3" text-anchor="end" fill="#333" font-weight="normal" >99.5</text>
<line x1="591.50" y1="321.20" x2="592.60" y2="321.20" stroke="#222" stroke-width="0.4" />
<text x="591.00" y="322.05" font-size="2.3" text-anchor="end" fill="#333" font-weight="normal" >0.5</text>
<line x1="591.50" y1="325.44" x2="592.60" y2="325.44" stroke="#222" stroke-width="0.4" />
<text x="591.00" y="326.29" font-size="2.3" text-anchor="end" fill="#333" font-weight="normal" >0.4</text>
<line x1="591.50" y1="329.68" x2="592.60" y2="329.68" stroke="#222" stroke-width="0.4" />
<text x="591.00" y="330.53" font-size="2.3" text-anchor="end" fill="#333" font-weight="normal" >0.3</text>
<line x1="591.50" y1="333.92" x2="592.60" y2="333.92" stroke="#222" stroke-width="0.4" />
<text x="591.00" y="334.77" font-size="2.3" text-anchor="end" fill="#333" font-weight="normal" >0.2</text>
<line x1="591.50" y1="338.16" x2="592.60" y2="338.16" stroke="#222" stroke-width="0.4" />
<text x="591.00" y="339.01" font-size="2.3" text-anchor="end" fill="#333" font-weight="normal" >0.1</text>
<line x1="591.50" y1="342.40" x2="592.60" y2="342.40" stroke="#222" stroke-width="0.4" />
<text x="591.00" y="343.25" font-size="2.3" text-anchor="end" fill="#333" font-weight="normal" >0.0</text>
<text x="583.10" y="321.05" font-size="2.6" text-anchor="middle" fill="#333" font-weight="normal" transform="rotate(-90 583.10 321.05)">%</text>
<text x="626.50" y="292.70" font-size="2.7" text-anchor="middle" fill="#111" font-weight="normal" stroke="#111" stroke-width="0.03" >UPN #10</text>
<text x="624.80" y="351.60" font-size="3.18" text-anchor="middle" fill="#111" font-weight="normal" stroke="#111" stroke-width="0.03" >Days after transplantation</text>
<polyline points="593.80,305.90 603.50,305.90 610.10,301.70 613.80,301.70 656.50,301.70" fill="none" stroke="#111" stroke-width="0.6" stroke-dasharray="0.5 1.6" stroke-linejoin="round" />
<rect x="592.80" y="304.90" width="2.00" height="2.00" fill="#000" />
<rect x="602.50" y="304.90" width="2.00" height="2.00" fill="#000" />
<rect x="609.10" y="300.70" width="2.00" height="2.00" fill="#000" />
<rect x="612.80" y="300.70" width="2.00" height="2.00" fill="#000" />
<rect x="655.50" y="300.70" width="2.00" height="2.00" fill="#000" />
<polyline points="592.90,321.20 593.80,335.90 603.50,337.80 610.10,342.40 613.80,342.40 656.50,342.40" fill="none" stroke="#111" stroke-width="0.8" stroke-linejoin="round" />
<circle cx="593.80" cy="335.90" r="0.80" fill="#000"/>
<circle cx="603.50" cy="337.80" r="0.80" fill="#000"/>
<circle cx="610.10" cy="342.40" r="0.80" fill="#000"/>
<circle cx="613.80" cy="342.40" r="0.80" fill="#000"/>
<circle cx="656.50" cy="342.40" r="0.80" fill="#000"/>
<line x1="623.70" y1="315.60" x2="628.30" y2="315.60" stroke="#111" stroke-width="0.45" stroke-dasharray="1.6 0.9 0.4 0.9"/>
<rect x="625.20" y="314.80" width="1.60" height="1.60" fill="#000" />
<text x="631.30" y="316.45" font-size="2.35" text-anchor="start" fill="#222" font-weight="normal" >Chimerism</text>
<line x1="623.70" y1="320.50" x2="628.30" y2="320.50" stroke="#111" stroke-width="0.45" />
<circle cx="626.00" cy="320.50" r="0.80" fill="#000"/>
<text x="631.30" y="321.35" font-size="2.35" text-anchor="start" fill="#222" font-weight="normal" >DNMT3AR882H</text>
</svg>
</body>
</html>
